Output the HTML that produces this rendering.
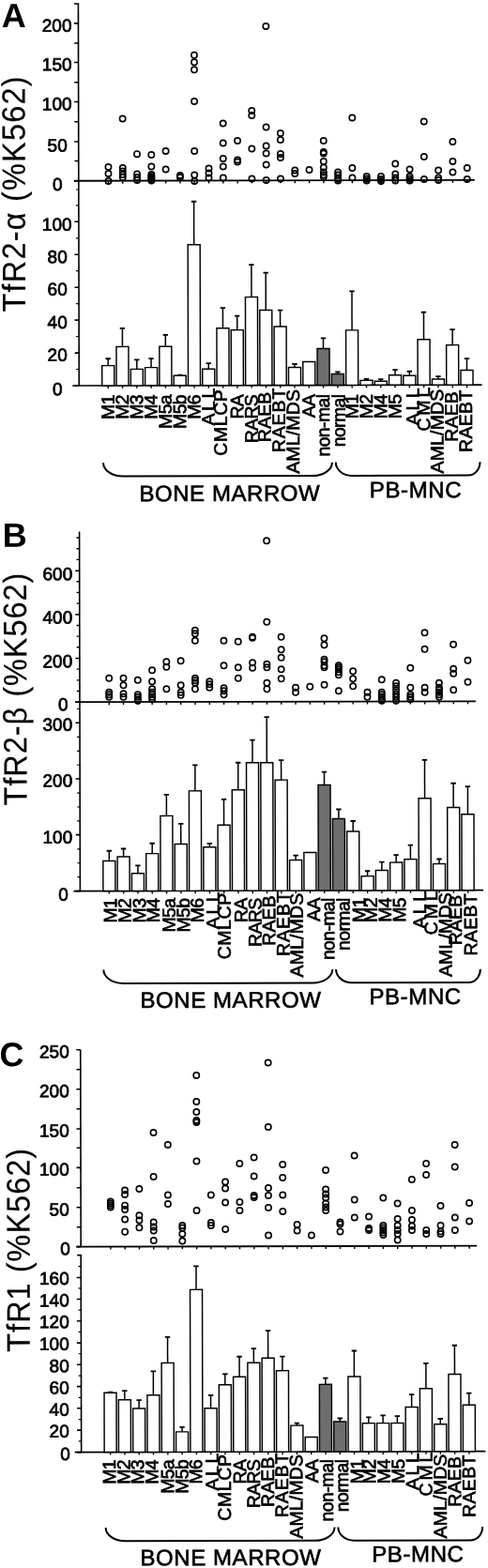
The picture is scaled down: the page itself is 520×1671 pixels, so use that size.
<!DOCTYPE html>
<html><head><meta charset="utf-8"><title>Figure</title>
<style>
html,body{margin:0;padding:0;background:#fff;}
svg{display:block;font-family:"Liberation Sans",sans-serif;fill:#000;}
</style></head><body>
<svg width="520" height="1671" viewBox="0 0 520 1671">
<rect x="0" y="0" width="520" height="1671" fill="#fff"/>
<g transform="rotate(-0.121 83.8 192.75)">
<!-- panel A -->
<line x1="83.80" y1="4.00" x2="83.80" y2="411.00" stroke="#000" stroke-width="1.6"/>
<line x1="79.30" y1="4.00" x2="84.60" y2="4.00" stroke="#000" stroke-width="1.6"/>
<line x1="78.80" y1="192.75" x2="505.80" y2="192.75" stroke="#000" stroke-width="1.8"/>
<line x1="76.80" y1="411.00" x2="513.10" y2="411.00" stroke="#000" stroke-width="1.7"/>
<line x1="79.30" y1="24.90" x2="83.80" y2="24.90" stroke="#000" stroke-width="1.6"/>
<text x="76.85" y="33.60" font-size="19" text-anchor="end" font-weight="normal" stroke="#000" stroke-width="0.75">200</text>
<line x1="79.30" y1="66.50" x2="83.80" y2="66.50" stroke="#000" stroke-width="1.6"/>
<text x="76.77" y="75.20" font-size="19" text-anchor="end" font-weight="normal" stroke="#000" stroke-width="0.75">150</text>
<line x1="79.30" y1="108.50" x2="83.80" y2="108.50" stroke="#000" stroke-width="1.6"/>
<text x="76.68" y="117.30" font-size="19" text-anchor="end" font-weight="normal" stroke="#000" stroke-width="0.75">100</text>
<line x1="79.30" y1="151.00" x2="83.80" y2="151.00" stroke="#000" stroke-width="1.6"/>
<text x="71.79" y="161.50" font-size="19" text-anchor="end" font-weight="normal" stroke="#000" stroke-width="0.75">50</text>
<line x1="79.30" y1="192.75" x2="83.80" y2="192.75" stroke="#000" stroke-width="1.6"/>
<text x="66.50" y="202.95" font-size="19" text-anchor="end" font-weight="normal" stroke="#000" stroke-width="0.75">0</text>
<line x1="79.30" y1="236.30" x2="83.80" y2="236.30" stroke="#000" stroke-width="1.6"/>
<text x="76.41" y="245.60" font-size="19" text-anchor="end" font-weight="normal" stroke="#000" stroke-width="0.75">100</text>
<line x1="79.30" y1="271.20" x2="83.80" y2="271.20" stroke="#000" stroke-width="1.6"/>
<text x="71.53" y="280.30" font-size="19" text-anchor="end" font-weight="normal" stroke="#000" stroke-width="0.75">80</text>
<line x1="79.30" y1="306.20" x2="83.80" y2="306.20" stroke="#000" stroke-width="1.6"/>
<text x="71.46" y="314.70" font-size="19" text-anchor="end" font-weight="normal" stroke="#000" stroke-width="0.75">60</text>
<line x1="79.30" y1="341.10" x2="83.80" y2="341.10" stroke="#000" stroke-width="1.6"/>
<text x="71.39" y="350.00" font-size="19" text-anchor="end" font-weight="normal" stroke="#000" stroke-width="0.75">40</text>
<line x1="79.30" y1="376.10" x2="83.80" y2="376.10" stroke="#000" stroke-width="1.6"/>
<text x="71.31" y="384.80" font-size="19" text-anchor="end" font-weight="normal" stroke="#000" stroke-width="0.75">20</text>
<line x1="79.30" y1="411.00" x2="83.80" y2="411.00" stroke="#000" stroke-width="1.6"/>
<text x="66.04" y="421.10" font-size="19" text-anchor="end" font-weight="normal" stroke="#000" stroke-width="0.75">0</text>
<line x1="79.50" y1="46.00" x2="83.80" y2="46.00" stroke="#000" stroke-width="1.4"/>
<line x1="79.50" y1="87.80" x2="83.80" y2="87.80" stroke="#000" stroke-width="1.4"/>
<line x1="79.50" y1="129.70" x2="83.80" y2="129.70" stroke="#000" stroke-width="1.4"/>
<line x1="79.50" y1="171.50" x2="83.80" y2="171.50" stroke="#000" stroke-width="1.4"/>
<line x1="80.80" y1="218.80" x2="83.80" y2="218.80" stroke="#000" stroke-width="1.2"/>
<line x1="80.80" y1="253.80" x2="83.80" y2="253.80" stroke="#000" stroke-width="1.2"/>
<line x1="80.80" y1="288.70" x2="83.80" y2="288.70" stroke="#000" stroke-width="1.2"/>
<line x1="80.80" y1="323.60" x2="83.80" y2="323.60" stroke="#000" stroke-width="1.2"/>
<line x1="80.80" y1="358.60" x2="83.80" y2="358.60" stroke="#000" stroke-width="1.2"/>
<line x1="80.80" y1="393.50" x2="83.80" y2="393.50" stroke="#000" stroke-width="1.2"/>
<line x1="80.80" y1="202.00" x2="83.80" y2="202.00" stroke="#000" stroke-width="1.2"/>
<line x1="115.50" y1="192.75" x2="115.50" y2="195.75" stroke="#000" stroke-width="1.4"/>
<line x1="114.80" y1="411.00" x2="114.80" y2="414.00" stroke="#000" stroke-width="1.4"/>
<line x1="130.79" y1="192.75" x2="130.79" y2="195.75" stroke="#000" stroke-width="1.4"/>
<line x1="130.09" y1="411.00" x2="130.09" y2="414.00" stroke="#000" stroke-width="1.4"/>
<line x1="146.08" y1="192.75" x2="146.08" y2="195.75" stroke="#000" stroke-width="1.4"/>
<line x1="145.38" y1="411.00" x2="145.38" y2="414.00" stroke="#000" stroke-width="1.4"/>
<line x1="161.37" y1="192.75" x2="161.37" y2="195.75" stroke="#000" stroke-width="1.4"/>
<line x1="160.67" y1="411.00" x2="160.67" y2="414.00" stroke="#000" stroke-width="1.4"/>
<line x1="176.66" y1="192.75" x2="176.66" y2="195.75" stroke="#000" stroke-width="1.4"/>
<line x1="175.96" y1="411.00" x2="175.96" y2="414.00" stroke="#000" stroke-width="1.4"/>
<line x1="191.95" y1="192.75" x2="191.95" y2="195.75" stroke="#000" stroke-width="1.4"/>
<line x1="191.25" y1="411.00" x2="191.25" y2="414.00" stroke="#000" stroke-width="1.4"/>
<line x1="207.24" y1="192.75" x2="207.24" y2="195.75" stroke="#000" stroke-width="1.4"/>
<line x1="206.54" y1="411.00" x2="206.54" y2="414.00" stroke="#000" stroke-width="1.4"/>
<line x1="222.53" y1="192.75" x2="222.53" y2="195.75" stroke="#000" stroke-width="1.4"/>
<line x1="221.83" y1="411.00" x2="221.83" y2="414.00" stroke="#000" stroke-width="1.4"/>
<line x1="237.82" y1="192.75" x2="237.82" y2="195.75" stroke="#000" stroke-width="1.4"/>
<line x1="237.12" y1="411.00" x2="237.12" y2="414.00" stroke="#000" stroke-width="1.4"/>
<line x1="253.11" y1="192.75" x2="253.11" y2="195.75" stroke="#000" stroke-width="1.4"/>
<line x1="252.41" y1="411.00" x2="252.41" y2="414.00" stroke="#000" stroke-width="1.4"/>
<line x1="268.40" y1="192.75" x2="268.40" y2="195.75" stroke="#000" stroke-width="1.4"/>
<line x1="267.70" y1="411.00" x2="267.70" y2="414.00" stroke="#000" stroke-width="1.4"/>
<line x1="283.69" y1="192.75" x2="283.69" y2="195.75" stroke="#000" stroke-width="1.4"/>
<line x1="282.99" y1="411.00" x2="282.99" y2="414.00" stroke="#000" stroke-width="1.4"/>
<line x1="298.98" y1="192.75" x2="298.98" y2="195.75" stroke="#000" stroke-width="1.4"/>
<line x1="298.28" y1="411.00" x2="298.28" y2="414.00" stroke="#000" stroke-width="1.4"/>
<line x1="314.27" y1="192.75" x2="314.27" y2="195.75" stroke="#000" stroke-width="1.4"/>
<line x1="313.57" y1="411.00" x2="313.57" y2="414.00" stroke="#000" stroke-width="1.4"/>
<line x1="329.56" y1="192.75" x2="329.56" y2="195.75" stroke="#000" stroke-width="1.4"/>
<line x1="328.86" y1="411.00" x2="328.86" y2="414.00" stroke="#000" stroke-width="1.4"/>
<line x1="344.85" y1="192.75" x2="344.85" y2="195.75" stroke="#000" stroke-width="1.4"/>
<line x1="344.15" y1="411.00" x2="344.15" y2="414.00" stroke="#000" stroke-width="1.4"/>
<line x1="360.14" y1="192.75" x2="360.14" y2="195.75" stroke="#000" stroke-width="1.4"/>
<line x1="359.44" y1="411.00" x2="359.44" y2="414.00" stroke="#000" stroke-width="1.4"/>
<line x1="375.43" y1="192.75" x2="375.43" y2="195.75" stroke="#000" stroke-width="1.4"/>
<line x1="374.73" y1="411.00" x2="374.73" y2="414.00" stroke="#000" stroke-width="1.4"/>
<line x1="390.72" y1="192.75" x2="390.72" y2="195.75" stroke="#000" stroke-width="1.4"/>
<line x1="390.02" y1="411.00" x2="390.02" y2="414.00" stroke="#000" stroke-width="1.4"/>
<line x1="406.01" y1="192.75" x2="406.01" y2="195.75" stroke="#000" stroke-width="1.4"/>
<line x1="405.31" y1="411.00" x2="405.31" y2="414.00" stroke="#000" stroke-width="1.4"/>
<line x1="421.30" y1="192.75" x2="421.30" y2="195.75" stroke="#000" stroke-width="1.4"/>
<line x1="420.60" y1="411.00" x2="420.60" y2="414.00" stroke="#000" stroke-width="1.4"/>
<line x1="436.59" y1="192.75" x2="436.59" y2="195.75" stroke="#000" stroke-width="1.4"/>
<line x1="435.89" y1="411.00" x2="435.89" y2="414.00" stroke="#000" stroke-width="1.4"/>
<line x1="451.88" y1="192.75" x2="451.88" y2="195.75" stroke="#000" stroke-width="1.4"/>
<line x1="451.18" y1="411.00" x2="451.18" y2="414.00" stroke="#000" stroke-width="1.4"/>
<line x1="467.17" y1="192.75" x2="467.17" y2="195.75" stroke="#000" stroke-width="1.4"/>
<line x1="466.47" y1="411.00" x2="466.47" y2="414.00" stroke="#000" stroke-width="1.4"/>
<line x1="482.46" y1="192.75" x2="482.46" y2="195.75" stroke="#000" stroke-width="1.4"/>
<line x1="481.76" y1="411.00" x2="481.76" y2="414.00" stroke="#000" stroke-width="1.4"/>
<line x1="497.75" y1="192.75" x2="497.75" y2="195.75" stroke="#000" stroke-width="1.4"/>
<line x1="497.05" y1="411.00" x2="497.05" y2="414.00" stroke="#000" stroke-width="1.4"/>
<line x1="114.80" y1="382.30" x2="114.80" y2="389.70" stroke="#000" stroke-width="1.5"/>
<line x1="112.10" y1="382.30" x2="117.50" y2="382.30" stroke="#000" stroke-width="1.8"/>
<rect x="108.30" y="389.70" width="13.0" height="21.30" fill="#fff" stroke="#000" stroke-width="1.45"/>
<line x1="130.09" y1="350.00" x2="130.09" y2="369.50" stroke="#000" stroke-width="1.5"/>
<line x1="127.39" y1="350.00" x2="132.79" y2="350.00" stroke="#000" stroke-width="1.8"/>
<rect x="123.59" y="369.50" width="13.0" height="41.50" fill="#fff" stroke="#000" stroke-width="1.45"/>
<line x1="145.38" y1="383.50" x2="145.38" y2="393.50" stroke="#000" stroke-width="1.5"/>
<line x1="142.68" y1="383.50" x2="148.08" y2="383.50" stroke="#000" stroke-width="1.8"/>
<rect x="138.88" y="393.50" width="13.0" height="17.50" fill="#fff" stroke="#000" stroke-width="1.45"/>
<line x1="160.67" y1="382.30" x2="160.67" y2="391.80" stroke="#000" stroke-width="1.5"/>
<line x1="157.97" y1="382.30" x2="163.37" y2="382.30" stroke="#000" stroke-width="1.8"/>
<rect x="154.17" y="391.80" width="13.0" height="19.20" fill="#fff" stroke="#000" stroke-width="1.45"/>
<line x1="175.96" y1="357.00" x2="175.96" y2="369.50" stroke="#000" stroke-width="1.5"/>
<line x1="173.26" y1="357.00" x2="178.66" y2="357.00" stroke="#000" stroke-width="1.8"/>
<rect x="169.46" y="369.50" width="13.0" height="41.50" fill="#fff" stroke="#000" stroke-width="1.45"/>
<line x1="191.25" y1="399.80" x2="191.25" y2="400.50" stroke="#000" stroke-width="1.5"/>
<line x1="188.55" y1="399.80" x2="193.95" y2="399.80" stroke="#000" stroke-width="1.8"/>
<rect x="184.75" y="400.50" width="13.0" height="10.50" fill="#fff" stroke="#000" stroke-width="1.45"/>
<line x1="206.54" y1="215.00" x2="206.54" y2="261.00" stroke="#000" stroke-width="1.5"/>
<line x1="203.84" y1="215.00" x2="209.24" y2="215.00" stroke="#000" stroke-width="1.8"/>
<rect x="200.04" y="261.00" width="13.0" height="150.00" fill="#fff" stroke="#000" stroke-width="1.45"/>
<line x1="221.83" y1="387.50" x2="221.83" y2="393.50" stroke="#000" stroke-width="1.5"/>
<line x1="219.13" y1="387.50" x2="224.53" y2="387.50" stroke="#000" stroke-width="1.8"/>
<rect x="215.33" y="393.50" width="13.0" height="17.50" fill="#fff" stroke="#000" stroke-width="1.45"/>
<line x1="237.12" y1="328.50" x2="237.12" y2="350.00" stroke="#000" stroke-width="1.5"/>
<line x1="234.42" y1="328.50" x2="239.82" y2="328.50" stroke="#000" stroke-width="1.8"/>
<rect x="230.62" y="350.00" width="13.0" height="61.00" fill="#fff" stroke="#000" stroke-width="1.45"/>
<line x1="252.41" y1="337.00" x2="252.41" y2="352.00" stroke="#000" stroke-width="1.5"/>
<line x1="249.71" y1="337.00" x2="255.11" y2="337.00" stroke="#000" stroke-width="1.8"/>
<rect x="245.91" y="352.00" width="13.0" height="59.00" fill="#fff" stroke="#000" stroke-width="1.45"/>
<line x1="267.70" y1="282.50" x2="267.70" y2="317.00" stroke="#000" stroke-width="1.5"/>
<line x1="265.00" y1="282.50" x2="270.40" y2="282.50" stroke="#000" stroke-width="1.8"/>
<rect x="261.20" y="317.00" width="13.0" height="94.00" fill="#fff" stroke="#000" stroke-width="1.45"/>
<line x1="282.99" y1="291.00" x2="282.99" y2="331.00" stroke="#000" stroke-width="1.5"/>
<line x1="280.29" y1="291.00" x2="285.69" y2="291.00" stroke="#000" stroke-width="1.8"/>
<rect x="276.49" y="331.00" width="13.0" height="80.00" fill="#fff" stroke="#000" stroke-width="1.45"/>
<line x1="298.28" y1="331.00" x2="298.28" y2="348.50" stroke="#000" stroke-width="1.5"/>
<line x1="295.58" y1="331.00" x2="300.98" y2="331.00" stroke="#000" stroke-width="1.8"/>
<rect x="291.78" y="348.50" width="13.0" height="62.50" fill="#fff" stroke="#000" stroke-width="1.45"/>
<line x1="313.57" y1="388.50" x2="313.57" y2="392.00" stroke="#000" stroke-width="1.5"/>
<line x1="310.87" y1="388.50" x2="316.27" y2="388.50" stroke="#000" stroke-width="1.8"/>
<rect x="307.07" y="392.00" width="13.0" height="19.00" fill="#fff" stroke="#000" stroke-width="1.45"/>
<rect x="322.36" y="386.00" width="13.0" height="25.00" fill="#fff" stroke="#000" stroke-width="1.45"/>
<line x1="344.15" y1="361.00" x2="344.15" y2="372.00" stroke="#000" stroke-width="1.5"/>
<line x1="341.45" y1="361.00" x2="346.85" y2="361.00" stroke="#000" stroke-width="1.8"/>
<rect x="337.65" y="372.00" width="13.0" height="39.00" fill="#6e6e6e" stroke="#000" stroke-width="1.45"/>
<line x1="359.44" y1="397.00" x2="359.44" y2="399.00" stroke="#000" stroke-width="1.5"/>
<line x1="356.74" y1="397.00" x2="362.14" y2="397.00" stroke="#000" stroke-width="1.8"/>
<rect x="352.94" y="399.00" width="13.0" height="12.00" fill="#6e6e6e" stroke="#000" stroke-width="1.45"/>
<line x1="374.73" y1="311.00" x2="374.73" y2="352.50" stroke="#000" stroke-width="1.5"/>
<line x1="372.03" y1="311.00" x2="377.43" y2="311.00" stroke="#000" stroke-width="1.8"/>
<rect x="368.23" y="352.50" width="13.0" height="58.50" fill="#fff" stroke="#000" stroke-width="1.45"/>
<line x1="390.02" y1="404.50" x2="390.02" y2="406.00" stroke="#000" stroke-width="1.5"/>
<line x1="387.32" y1="404.50" x2="392.72" y2="404.50" stroke="#000" stroke-width="1.8"/>
<rect x="383.52" y="406.00" width="13.0" height="5.00" fill="#fff" stroke="#000" stroke-width="1.45"/>
<line x1="405.31" y1="404.80" x2="405.31" y2="407.00" stroke="#000" stroke-width="1.5"/>
<line x1="402.61" y1="404.80" x2="408.01" y2="404.80" stroke="#000" stroke-width="1.8"/>
<rect x="398.81" y="407.00" width="13.0" height="4.00" fill="#fff" stroke="#000" stroke-width="1.45"/>
<line x1="420.60" y1="394.80" x2="420.60" y2="400.50" stroke="#000" stroke-width="1.5"/>
<line x1="417.90" y1="394.80" x2="423.30" y2="394.80" stroke="#000" stroke-width="1.8"/>
<rect x="414.10" y="400.50" width="13.0" height="10.50" fill="#fff" stroke="#000" stroke-width="1.45"/>
<line x1="435.89" y1="396.50" x2="435.89" y2="401.00" stroke="#000" stroke-width="1.5"/>
<line x1="433.19" y1="396.50" x2="438.59" y2="396.50" stroke="#000" stroke-width="1.8"/>
<rect x="429.39" y="401.00" width="13.0" height="10.00" fill="#fff" stroke="#000" stroke-width="1.45"/>
<line x1="451.18" y1="333.50" x2="451.18" y2="362.50" stroke="#000" stroke-width="1.5"/>
<line x1="448.48" y1="333.50" x2="453.88" y2="333.50" stroke="#000" stroke-width="1.8"/>
<rect x="444.68" y="362.50" width="13.0" height="48.50" fill="#fff" stroke="#000" stroke-width="1.45"/>
<line x1="466.47" y1="402.00" x2="466.47" y2="404.80" stroke="#000" stroke-width="1.5"/>
<line x1="463.77" y1="402.00" x2="469.17" y2="402.00" stroke="#000" stroke-width="1.8"/>
<rect x="459.97" y="404.80" width="13.0" height="6.20" fill="#fff" stroke="#000" stroke-width="1.45"/>
<line x1="481.76" y1="352.00" x2="481.76" y2="368.50" stroke="#000" stroke-width="1.5"/>
<line x1="479.06" y1="352.00" x2="484.46" y2="352.00" stroke="#000" stroke-width="1.8"/>
<rect x="475.26" y="368.50" width="13.0" height="42.50" fill="#fff" stroke="#000" stroke-width="1.45"/>
<line x1="497.05" y1="383.00" x2="497.05" y2="395.30" stroke="#000" stroke-width="1.5"/>
<line x1="494.35" y1="383.00" x2="499.75" y2="383.00" stroke="#000" stroke-width="1.8"/>
<rect x="490.55" y="395.30" width="13.0" height="15.70" fill="#fff" stroke="#000" stroke-width="1.45"/>
<circle cx="115.50" cy="178.07" r="3.15" fill="none" stroke="#000" stroke-width="1.6"/>
<circle cx="115.50" cy="185.07" r="3.15" fill="none" stroke="#000" stroke-width="1.6"/>
<circle cx="115.50" cy="193.07" r="3.15" fill="none" stroke="#000" stroke-width="1.6"/>
<circle cx="130.79" cy="126.60" r="3.15" fill="none" stroke="#000" stroke-width="1.6"/>
<circle cx="130.79" cy="179.10" r="3.15" fill="none" stroke="#000" stroke-width="1.6"/>
<circle cx="130.79" cy="182.60" r="3.15" fill="none" stroke="#000" stroke-width="1.6"/>
<circle cx="130.79" cy="186.10" r="3.15" fill="none" stroke="#000" stroke-width="1.6"/>
<circle cx="130.79" cy="189.10" r="3.15" fill="none" stroke="#000" stroke-width="1.6"/>
<circle cx="146.08" cy="164.33" r="3.15" fill="none" stroke="#000" stroke-width="1.6"/>
<circle cx="146.08" cy="185.63" r="3.15" fill="none" stroke="#000" stroke-width="1.6"/>
<circle cx="146.08" cy="189.13" r="3.15" fill="none" stroke="#000" stroke-width="1.6"/>
<circle cx="146.08" cy="192.13" r="3.15" fill="none" stroke="#000" stroke-width="1.6"/>
<circle cx="161.37" cy="165.16" r="3.15" fill="none" stroke="#000" stroke-width="1.6"/>
<circle cx="161.37" cy="177.66" r="3.15" fill="none" stroke="#000" stroke-width="1.6"/>
<circle cx="161.37" cy="186.16" r="3.15" fill="none" stroke="#000" stroke-width="1.6"/>
<circle cx="161.37" cy="188.16" r="3.15" fill="none" stroke="#000" stroke-width="1.6"/>
<circle cx="161.37" cy="189.66" r="3.15" fill="none" stroke="#000" stroke-width="1.6"/>
<circle cx="161.37" cy="191.16" r="3.15" fill="none" stroke="#000" stroke-width="1.6"/>
<circle cx="161.37" cy="192.66" r="3.15" fill="none" stroke="#000" stroke-width="1.6"/>
<circle cx="176.66" cy="161.19" r="3.15" fill="none" stroke="#000" stroke-width="1.6"/>
<circle cx="176.66" cy="180.69" r="3.15" fill="none" stroke="#000" stroke-width="1.6"/>
<circle cx="191.95" cy="187.23" r="3.15" fill="none" stroke="#000" stroke-width="1.6"/>
<circle cx="191.95" cy="189.23" r="3.15" fill="none" stroke="#000" stroke-width="1.6"/>
<circle cx="207.24" cy="59.06" r="3.15" fill="none" stroke="#000" stroke-width="1.6"/>
<circle cx="207.24" cy="66.56" r="3.15" fill="none" stroke="#000" stroke-width="1.6"/>
<circle cx="207.24" cy="74.56" r="3.15" fill="none" stroke="#000" stroke-width="1.6"/>
<circle cx="207.24" cy="108.26" r="3.15" fill="none" stroke="#000" stroke-width="1.6"/>
<circle cx="207.24" cy="161.26" r="3.15" fill="none" stroke="#000" stroke-width="1.6"/>
<circle cx="207.24" cy="186.76" r="3.15" fill="none" stroke="#000" stroke-width="1.6"/>
<circle cx="207.24" cy="193.26" r="3.15" fill="none" stroke="#000" stroke-width="1.6"/>
<circle cx="222.53" cy="179.79" r="3.15" fill="none" stroke="#000" stroke-width="1.6"/>
<circle cx="222.53" cy="184.79" r="3.15" fill="none" stroke="#000" stroke-width="1.6"/>
<circle cx="222.53" cy="189.79" r="3.15" fill="none" stroke="#000" stroke-width="1.6"/>
<circle cx="237.82" cy="131.82" r="3.15" fill="none" stroke="#000" stroke-width="1.6"/>
<circle cx="237.82" cy="152.82" r="3.15" fill="none" stroke="#000" stroke-width="1.6"/>
<circle cx="237.82" cy="169.32" r="3.15" fill="none" stroke="#000" stroke-width="1.6"/>
<circle cx="237.82" cy="177.82" r="3.15" fill="none" stroke="#000" stroke-width="1.6"/>
<circle cx="237.82" cy="189.82" r="3.15" fill="none" stroke="#000" stroke-width="1.6"/>
<circle cx="253.11" cy="150.36" r="3.15" fill="none" stroke="#000" stroke-width="1.6"/>
<circle cx="253.11" cy="170.86" r="3.15" fill="none" stroke="#000" stroke-width="1.6"/>
<circle cx="253.11" cy="172.86" r="3.15" fill="none" stroke="#000" stroke-width="1.6"/>
<circle cx="268.40" cy="118.39" r="3.15" fill="none" stroke="#000" stroke-width="1.6"/>
<circle cx="268.40" cy="123.39" r="3.15" fill="none" stroke="#000" stroke-width="1.6"/>
<circle cx="268.40" cy="158.89" r="3.15" fill="none" stroke="#000" stroke-width="1.6"/>
<circle cx="268.40" cy="190.89" r="3.15" fill="none" stroke="#000" stroke-width="1.6"/>
<circle cx="283.69" cy="28.42" r="3.15" fill="none" stroke="#000" stroke-width="1.6"/>
<circle cx="283.69" cy="135.92" r="3.15" fill="none" stroke="#000" stroke-width="1.6"/>
<circle cx="283.69" cy="155.92" r="3.15" fill="none" stroke="#000" stroke-width="1.6"/>
<circle cx="283.69" cy="163.92" r="3.15" fill="none" stroke="#000" stroke-width="1.6"/>
<circle cx="283.69" cy="175.92" r="3.15" fill="none" stroke="#000" stroke-width="1.6"/>
<circle cx="283.69" cy="192.42" r="3.15" fill="none" stroke="#000" stroke-width="1.6"/>
<circle cx="298.98" cy="142.45" r="3.15" fill="none" stroke="#000" stroke-width="1.6"/>
<circle cx="298.98" cy="149.45" r="3.15" fill="none" stroke="#000" stroke-width="1.6"/>
<circle cx="298.98" cy="164.45" r="3.15" fill="none" stroke="#000" stroke-width="1.6"/>
<circle cx="298.98" cy="168.45" r="3.15" fill="none" stroke="#000" stroke-width="1.6"/>
<circle cx="298.98" cy="190.95" r="3.15" fill="none" stroke="#000" stroke-width="1.6"/>
<circle cx="314.27" cy="181.98" r="3.15" fill="none" stroke="#000" stroke-width="1.6"/>
<circle cx="314.27" cy="185.48" r="3.15" fill="none" stroke="#000" stroke-width="1.6"/>
<circle cx="329.56" cy="181.52" r="3.15" fill="none" stroke="#000" stroke-width="1.6"/>
<circle cx="344.85" cy="150.55" r="3.15" fill="none" stroke="#000" stroke-width="1.6"/>
<circle cx="344.85" cy="162.55" r="3.15" fill="none" stroke="#000" stroke-width="1.6"/>
<circle cx="344.85" cy="164.05" r="3.15" fill="none" stroke="#000" stroke-width="1.6"/>
<circle cx="344.85" cy="172.55" r="3.15" fill="none" stroke="#000" stroke-width="1.6"/>
<circle cx="344.85" cy="179.05" r="3.15" fill="none" stroke="#000" stroke-width="1.6"/>
<circle cx="344.85" cy="184.05" r="3.15" fill="none" stroke="#000" stroke-width="1.6"/>
<circle cx="344.85" cy="187.05" r="3.15" fill="none" stroke="#000" stroke-width="1.6"/>
<circle cx="344.85" cy="189.05" r="3.15" fill="none" stroke="#000" stroke-width="1.6"/>
<circle cx="360.14" cy="184.08" r="3.15" fill="none" stroke="#000" stroke-width="1.6"/>
<circle cx="360.14" cy="187.08" r="3.15" fill="none" stroke="#000" stroke-width="1.6"/>
<circle cx="360.14" cy="191.08" r="3.15" fill="none" stroke="#000" stroke-width="1.6"/>
<circle cx="360.14" cy="193.08" r="3.15" fill="none" stroke="#000" stroke-width="1.6"/>
<circle cx="375.43" cy="126.11" r="3.15" fill="none" stroke="#000" stroke-width="1.6"/>
<circle cx="375.43" cy="179.61" r="3.15" fill="none" stroke="#000" stroke-width="1.6"/>
<circle cx="375.43" cy="190.11" r="3.15" fill="none" stroke="#000" stroke-width="1.6"/>
<circle cx="390.72" cy="188.65" r="3.15" fill="none" stroke="#000" stroke-width="1.6"/>
<circle cx="390.72" cy="191.15" r="3.15" fill="none" stroke="#000" stroke-width="1.6"/>
<circle cx="390.72" cy="193.15" r="3.15" fill="none" stroke="#000" stroke-width="1.6"/>
<circle cx="406.01" cy="188.68" r="3.15" fill="none" stroke="#000" stroke-width="1.6"/>
<circle cx="406.01" cy="191.68" r="3.15" fill="none" stroke="#000" stroke-width="1.6"/>
<circle cx="406.01" cy="193.68" r="3.15" fill="none" stroke="#000" stroke-width="1.6"/>
<circle cx="421.30" cy="175.21" r="3.15" fill="none" stroke="#000" stroke-width="1.6"/>
<circle cx="421.30" cy="186.21" r="3.15" fill="none" stroke="#000" stroke-width="1.6"/>
<circle cx="421.30" cy="190.21" r="3.15" fill="none" stroke="#000" stroke-width="1.6"/>
<circle cx="421.30" cy="193.21" r="3.15" fill="none" stroke="#000" stroke-width="1.6"/>
<circle cx="436.59" cy="181.24" r="3.15" fill="none" stroke="#000" stroke-width="1.6"/>
<circle cx="436.59" cy="188.74" r="3.15" fill="none" stroke="#000" stroke-width="1.6"/>
<circle cx="436.59" cy="191.24" r="3.15" fill="none" stroke="#000" stroke-width="1.6"/>
<circle cx="436.59" cy="193.24" r="3.15" fill="none" stroke="#000" stroke-width="1.6"/>
<circle cx="451.88" cy="130.28" r="3.15" fill="none" stroke="#000" stroke-width="1.6"/>
<circle cx="451.88" cy="167.78" r="3.15" fill="none" stroke="#000" stroke-width="1.6"/>
<circle cx="451.88" cy="191.78" r="3.15" fill="none" stroke="#000" stroke-width="1.6"/>
<circle cx="467.17" cy="182.31" r="3.15" fill="none" stroke="#000" stroke-width="1.6"/>
<circle cx="467.17" cy="190.31" r="3.15" fill="none" stroke="#000" stroke-width="1.6"/>
<circle cx="467.17" cy="192.81" r="3.15" fill="none" stroke="#000" stroke-width="1.6"/>
<circle cx="482.46" cy="151.84" r="3.15" fill="none" stroke="#000" stroke-width="1.6"/>
<circle cx="482.46" cy="172.84" r="3.15" fill="none" stroke="#000" stroke-width="1.6"/>
<circle cx="482.46" cy="184.34" r="3.15" fill="none" stroke="#000" stroke-width="1.6"/>
<circle cx="497.75" cy="179.87" r="3.15" fill="none" stroke="#000" stroke-width="1.6"/>
<circle cx="497.75" cy="191.87" r="3.15" fill="none" stroke="#000" stroke-width="1.6"/>
<text x="121.20" y="421.20" font-size="19.4" text-anchor="end" font-weight="normal" transform="rotate(-90 121.20 421.20)" letter-spacing="-0.60" stroke="#000" stroke-width="0.7">M1</text>
<text x="136.49" y="421.20" font-size="19.4" text-anchor="end" font-weight="normal" transform="rotate(-90 136.49 421.20)" letter-spacing="-0.60" stroke="#000" stroke-width="0.7">M2</text>
<text x="151.78" y="421.20" font-size="19.4" text-anchor="end" font-weight="normal" transform="rotate(-90 151.78 421.20)" letter-spacing="-0.60" stroke="#000" stroke-width="0.7">M3</text>
<text x="167.07" y="421.20" font-size="19.4" text-anchor="end" font-weight="normal" transform="rotate(-90 167.07 421.20)" letter-spacing="-0.60" stroke="#000" stroke-width="0.7">M4</text>
<text x="182.36" y="421.20" font-size="19.4" text-anchor="end" font-weight="normal" transform="rotate(-90 182.36 421.20)" letter-spacing="-0.60" stroke="#000" stroke-width="0.7">M5a</text>
<text x="197.65" y="421.20" font-size="19.4" text-anchor="end" font-weight="normal" transform="rotate(-90 197.65 421.20)" letter-spacing="-0.60" stroke="#000" stroke-width="0.7">M5b</text>
<text x="212.94" y="421.20" font-size="19.4" text-anchor="end" font-weight="normal" transform="rotate(-90 212.94 421.20)" letter-spacing="-0.60" stroke="#000" stroke-width="0.7">M6</text>
<text x="228.23" y="411.45" font-size="19.4" text-anchor="end" font-weight="normal" transform="rotate(-90 228.23 411.45)" letter-spacing="2.65" stroke="#000" stroke-width="0.7">ALL</text>
<text x="241.22" y="414.95" font-size="19.4" text-anchor="end" font-weight="normal" transform="rotate(-90 241.22 414.95)" letter-spacing="0.65" stroke="#000" stroke-width="0.7">CMLCP</text>
<text x="258.81" y="421.20" font-size="19.4" text-anchor="end" font-weight="normal" transform="rotate(-90 258.81 421.20)" letter-spacing="-0.60" stroke="#000" stroke-width="0.7">RA</text>
<text x="274.10" y="421.20" font-size="19.4" text-anchor="end" font-weight="normal" transform="rotate(-90 274.10 421.20)" letter-spacing="-0.60" stroke="#000" stroke-width="0.7">RARS</text>
<text x="287.89" y="417.87" font-size="19.4" text-anchor="end" font-weight="normal" transform="rotate(-90 287.89 417.87)" letter-spacing="0.23" stroke="#000" stroke-width="0.7">RAEB</text>
<text x="303.18" y="413.08" font-size="19.4" text-anchor="end" font-weight="normal" transform="rotate(-90 303.18 413.08)" letter-spacing="1.02" stroke="#000" stroke-width="0.7">RAEBT</text>
<text x="318.47" y="415.37" font-size="19.4" text-anchor="end" font-weight="normal" transform="rotate(-90 318.47 415.37)" letter-spacing="0.23" stroke="#000" stroke-width="0.7">AML/MDS</text>
<text x="335.26" y="421.20" font-size="19.4" text-anchor="end" font-weight="normal" transform="rotate(-90 335.26 421.20)" letter-spacing="-0.60" stroke="#000" stroke-width="0.7">AA</text>
<text x="350.55" y="421.20" font-size="19.4" text-anchor="end" font-weight="normal" transform="rotate(-90 350.55 421.20)" letter-spacing="-0.60" stroke="#000" stroke-width="0.7">non-mal</text>
<text x="367.14" y="421.20" font-size="19.4" text-anchor="end" font-weight="normal" transform="rotate(-90 367.14 421.20)" letter-spacing="-0.60" stroke="#000" stroke-width="0.7">normal</text>
<text x="381.13" y="421.20" font-size="19.4" text-anchor="end" font-weight="normal" transform="rotate(-90 381.13 421.20)" letter-spacing="-0.60" stroke="#000" stroke-width="0.7">M1</text>
<text x="396.42" y="421.20" font-size="19.4" text-anchor="end" font-weight="normal" transform="rotate(-90 396.42 421.20)" letter-spacing="-0.60" stroke="#000" stroke-width="0.7">M2</text>
<text x="411.71" y="421.20" font-size="19.4" text-anchor="end" font-weight="normal" transform="rotate(-90 411.71 421.20)" letter-spacing="-0.60" stroke="#000" stroke-width="0.7">M4</text>
<text x="427.00" y="421.20" font-size="19.4" text-anchor="end" font-weight="normal" transform="rotate(-90 427.00 421.20)" letter-spacing="-0.60" stroke="#000" stroke-width="0.7">M5</text>
<text x="445.99" y="411.45" font-size="19.4" text-anchor="end" font-weight="normal" transform="rotate(-90 445.99 411.45)" letter-spacing="2.65" stroke="#000" stroke-width="0.7">ALL</text>
<text x="457.58" y="410.70" font-size="19.4" text-anchor="end" font-weight="normal" transform="rotate(-90 457.58 410.70)" letter-spacing="2.90" stroke="#000" stroke-width="0.7">CML</text>
<text x="471.87" y="415.37" font-size="19.4" text-anchor="end" font-weight="normal" transform="rotate(-90 471.87 415.37)" letter-spacing="0.23" stroke="#000" stroke-width="0.7">AML/MDS</text>
<text x="487.16" y="417.87" font-size="19.4" text-anchor="end" font-weight="normal" transform="rotate(-90 487.16 417.87)" letter-spacing="0.23" stroke="#000" stroke-width="0.7">RAEB</text>
<text x="502.45" y="416.20" font-size="19.4" text-anchor="end" font-weight="normal" transform="rotate(-90 502.45 416.20)" letter-spacing="0.40" stroke="#000" stroke-width="0.7">RAEBT</text>
<path d="M109.40 493.20 C109.40 501.15,118.80 507.60,130.40 507.60 L332.30 507.60 C343.90 507.60,353.30 501.15,353.30 493.20 M357.10 493.20 C357.10 501.10,364.71 507.50,374.10 507.50 L498.20 507.50 C505.21 507.50,510.90 501.10,510.90 493.20" fill="none" stroke="#000" stroke-width="2"/>
<text x="147.66" y="534.30" font-size="24" text-anchor="start" font-weight="normal" letter-spacing="0.57" stroke="#000" stroke-width="0.65">BONE MARROW</text>
<text x="393.16" y="531.00" font-size="24" text-anchor="start" font-weight="normal" letter-spacing="0.6" stroke="#000" stroke-width="0.65">PB-MNC</text>
<text x="2.05" y="28.83" font-size="36" text-anchor="start" font-weight="bold" stroke="#000" stroke-width="0">A</text>
<text transform="translate(26.67 206.28) rotate(-90) scale(1 1.07)" x="0" y="0" font-size="32.5" text-anchor="middle" stroke="#000" stroke-width="0.15" letter-spacing="1.2">TfR2-&#945; (%K562)</text>
<!-- panel B -->
<line x1="83.80" y1="566.50" x2="83.80" y2="949.60" stroke="#000" stroke-width="1.6"/>
<line x1="78.80" y1="748.20" x2="505.80" y2="748.20" stroke="#000" stroke-width="1.7"/>
<line x1="76.80" y1="949.60" x2="513.50" y2="949.60" stroke="#000" stroke-width="1.7"/>
<line x1="79.30" y1="608.20" x2="83.80" y2="608.20" stroke="#000" stroke-width="1.6"/>
<text x="76.32" y="618.20" font-size="19" text-anchor="end" font-weight="normal" stroke="#000" stroke-width="0.75">600</text>
<line x1="79.30" y1="654.90" x2="83.80" y2="654.90" stroke="#000" stroke-width="1.6"/>
<text x="76.22" y="664.50" font-size="19" text-anchor="end" font-weight="normal" stroke="#000" stroke-width="0.75">400</text>
<line x1="79.30" y1="701.50" x2="83.80" y2="701.50" stroke="#000" stroke-width="1.6"/>
<text x="76.13" y="711.30" font-size="19" text-anchor="end" font-weight="normal" stroke="#000" stroke-width="0.75">200</text>
<line x1="79.30" y1="748.20" x2="83.80" y2="748.20" stroke="#000" stroke-width="1.6"/>
<text x="71.33" y="757.10" font-size="19" text-anchor="end" font-weight="normal" stroke="#000" stroke-width="0.75">0</text>
<line x1="79.30" y1="770.20" x2="83.80" y2="770.20" stroke="#000" stroke-width="1.6"/>
<text x="75.98" y="778.70" font-size="19" text-anchor="end" font-weight="normal" stroke="#000" stroke-width="0.75">300</text>
<line x1="79.30" y1="830.00" x2="83.80" y2="830.00" stroke="#000" stroke-width="1.6"/>
<text x="75.86" y="838.50" font-size="19" text-anchor="end" font-weight="normal" stroke="#000" stroke-width="0.75">200</text>
<line x1="79.30" y1="889.60" x2="83.80" y2="889.60" stroke="#000" stroke-width="1.6"/>
<text x="75.73" y="898.70" font-size="19" text-anchor="end" font-weight="normal" stroke="#000" stroke-width="0.75">100</text>
<line x1="79.30" y1="949.60" x2="83.80" y2="949.60" stroke="#000" stroke-width="1.6"/>
<text x="71.10" y="959.70" font-size="19" text-anchor="end" font-weight="normal" stroke="#000" stroke-width="0.75">0</text>
<line x1="80.60" y1="736.52" x2="83.80" y2="736.52" stroke="#000" stroke-width="1.4"/>
<line x1="80.60" y1="724.84" x2="83.80" y2="724.84" stroke="#000" stroke-width="1.4"/>
<line x1="80.60" y1="713.16" x2="83.80" y2="713.16" stroke="#000" stroke-width="1.4"/>
<line x1="80.60" y1="689.80" x2="83.80" y2="689.80" stroke="#000" stroke-width="1.4"/>
<line x1="80.60" y1="678.12" x2="83.80" y2="678.12" stroke="#000" stroke-width="1.4"/>
<line x1="80.60" y1="666.44" x2="83.80" y2="666.44" stroke="#000" stroke-width="1.4"/>
<line x1="80.60" y1="643.08" x2="83.80" y2="643.08" stroke="#000" stroke-width="1.4"/>
<line x1="80.60" y1="631.40" x2="83.80" y2="631.40" stroke="#000" stroke-width="1.4"/>
<line x1="80.60" y1="619.72" x2="83.80" y2="619.72" stroke="#000" stroke-width="1.4"/>
<line x1="80.60" y1="596.36" x2="83.80" y2="596.36" stroke="#000" stroke-width="1.4"/>
<line x1="80.60" y1="584.68" x2="83.80" y2="584.68" stroke="#000" stroke-width="1.4"/>
<line x1="80.60" y1="573.00" x2="83.80" y2="573.00" stroke="#000" stroke-width="1.4"/>
<line x1="80.80" y1="934.67" x2="83.80" y2="934.67" stroke="#000" stroke-width="1.2"/>
<line x1="80.80" y1="919.74" x2="83.80" y2="919.74" stroke="#000" stroke-width="1.2"/>
<line x1="80.80" y1="904.81" x2="83.80" y2="904.81" stroke="#000" stroke-width="1.2"/>
<line x1="80.80" y1="874.95" x2="83.80" y2="874.95" stroke="#000" stroke-width="1.2"/>
<line x1="80.80" y1="860.02" x2="83.80" y2="860.02" stroke="#000" stroke-width="1.2"/>
<line x1="80.80" y1="845.09" x2="83.80" y2="845.09" stroke="#000" stroke-width="1.2"/>
<line x1="80.80" y1="815.23" x2="83.80" y2="815.23" stroke="#000" stroke-width="1.2"/>
<line x1="80.80" y1="800.30" x2="83.80" y2="800.30" stroke="#000" stroke-width="1.2"/>
<line x1="80.80" y1="785.37" x2="83.80" y2="785.37" stroke="#000" stroke-width="1.2"/>
<line x1="80.80" y1="755.51" x2="83.80" y2="755.51" stroke="#000" stroke-width="1.2"/>
<line x1="115.10" y1="748.20" x2="115.10" y2="751.20" stroke="#000" stroke-width="1.4"/>
<line x1="114.80" y1="949.60" x2="114.80" y2="952.60" stroke="#000" stroke-width="1.4"/>
<line x1="130.39" y1="748.20" x2="130.39" y2="751.20" stroke="#000" stroke-width="1.4"/>
<line x1="130.09" y1="949.60" x2="130.09" y2="952.60" stroke="#000" stroke-width="1.4"/>
<line x1="145.68" y1="748.20" x2="145.68" y2="751.20" stroke="#000" stroke-width="1.4"/>
<line x1="145.38" y1="949.60" x2="145.38" y2="952.60" stroke="#000" stroke-width="1.4"/>
<line x1="160.97" y1="748.20" x2="160.97" y2="751.20" stroke="#000" stroke-width="1.4"/>
<line x1="160.67" y1="949.60" x2="160.67" y2="952.60" stroke="#000" stroke-width="1.4"/>
<line x1="176.26" y1="748.20" x2="176.26" y2="751.20" stroke="#000" stroke-width="1.4"/>
<line x1="175.96" y1="949.60" x2="175.96" y2="952.60" stroke="#000" stroke-width="1.4"/>
<line x1="191.55" y1="748.20" x2="191.55" y2="751.20" stroke="#000" stroke-width="1.4"/>
<line x1="191.25" y1="949.60" x2="191.25" y2="952.60" stroke="#000" stroke-width="1.4"/>
<line x1="206.84" y1="748.20" x2="206.84" y2="751.20" stroke="#000" stroke-width="1.4"/>
<line x1="206.54" y1="949.60" x2="206.54" y2="952.60" stroke="#000" stroke-width="1.4"/>
<line x1="222.13" y1="748.20" x2="222.13" y2="751.20" stroke="#000" stroke-width="1.4"/>
<line x1="221.83" y1="949.60" x2="221.83" y2="952.60" stroke="#000" stroke-width="1.4"/>
<line x1="237.42" y1="748.20" x2="237.42" y2="751.20" stroke="#000" stroke-width="1.4"/>
<line x1="237.12" y1="949.60" x2="237.12" y2="952.60" stroke="#000" stroke-width="1.4"/>
<line x1="252.71" y1="748.20" x2="252.71" y2="751.20" stroke="#000" stroke-width="1.4"/>
<line x1="252.41" y1="949.60" x2="252.41" y2="952.60" stroke="#000" stroke-width="1.4"/>
<line x1="268.00" y1="748.20" x2="268.00" y2="751.20" stroke="#000" stroke-width="1.4"/>
<line x1="267.70" y1="949.60" x2="267.70" y2="952.60" stroke="#000" stroke-width="1.4"/>
<line x1="283.29" y1="748.20" x2="283.29" y2="751.20" stroke="#000" stroke-width="1.4"/>
<line x1="282.99" y1="949.60" x2="282.99" y2="952.60" stroke="#000" stroke-width="1.4"/>
<line x1="298.58" y1="748.20" x2="298.58" y2="751.20" stroke="#000" stroke-width="1.4"/>
<line x1="298.28" y1="949.60" x2="298.28" y2="952.60" stroke="#000" stroke-width="1.4"/>
<line x1="313.87" y1="748.20" x2="313.87" y2="751.20" stroke="#000" stroke-width="1.4"/>
<line x1="313.57" y1="949.60" x2="313.57" y2="952.60" stroke="#000" stroke-width="1.4"/>
<line x1="329.16" y1="748.20" x2="329.16" y2="751.20" stroke="#000" stroke-width="1.4"/>
<line x1="328.86" y1="949.60" x2="328.86" y2="952.60" stroke="#000" stroke-width="1.4"/>
<line x1="344.45" y1="748.20" x2="344.45" y2="751.20" stroke="#000" stroke-width="1.4"/>
<line x1="344.15" y1="949.60" x2="344.15" y2="952.60" stroke="#000" stroke-width="1.4"/>
<line x1="359.74" y1="748.20" x2="359.74" y2="751.20" stroke="#000" stroke-width="1.4"/>
<line x1="359.44" y1="949.60" x2="359.44" y2="952.60" stroke="#000" stroke-width="1.4"/>
<line x1="375.03" y1="748.20" x2="375.03" y2="751.20" stroke="#000" stroke-width="1.4"/>
<line x1="374.73" y1="949.60" x2="374.73" y2="952.60" stroke="#000" stroke-width="1.4"/>
<line x1="390.32" y1="748.20" x2="390.32" y2="751.20" stroke="#000" stroke-width="1.4"/>
<line x1="390.02" y1="949.60" x2="390.02" y2="952.60" stroke="#000" stroke-width="1.4"/>
<line x1="405.61" y1="748.20" x2="405.61" y2="751.20" stroke="#000" stroke-width="1.4"/>
<line x1="405.31" y1="949.60" x2="405.31" y2="952.60" stroke="#000" stroke-width="1.4"/>
<line x1="420.90" y1="748.20" x2="420.90" y2="751.20" stroke="#000" stroke-width="1.4"/>
<line x1="420.60" y1="949.60" x2="420.60" y2="952.60" stroke="#000" stroke-width="1.4"/>
<line x1="436.19" y1="748.20" x2="436.19" y2="751.20" stroke="#000" stroke-width="1.4"/>
<line x1="435.89" y1="949.60" x2="435.89" y2="952.60" stroke="#000" stroke-width="1.4"/>
<line x1="451.48" y1="748.20" x2="451.48" y2="751.20" stroke="#000" stroke-width="1.4"/>
<line x1="451.18" y1="949.60" x2="451.18" y2="952.60" stroke="#000" stroke-width="1.4"/>
<line x1="466.77" y1="748.20" x2="466.77" y2="751.20" stroke="#000" stroke-width="1.4"/>
<line x1="466.47" y1="949.60" x2="466.47" y2="952.60" stroke="#000" stroke-width="1.4"/>
<line x1="482.06" y1="748.20" x2="482.06" y2="751.20" stroke="#000" stroke-width="1.4"/>
<line x1="481.76" y1="949.60" x2="481.76" y2="952.60" stroke="#000" stroke-width="1.4"/>
<line x1="497.35" y1="748.20" x2="497.35" y2="751.20" stroke="#000" stroke-width="1.4"/>
<line x1="497.05" y1="949.60" x2="497.05" y2="952.60" stroke="#000" stroke-width="1.4"/>
<line x1="114.80" y1="906.80" x2="114.80" y2="917.60" stroke="#000" stroke-width="1.5"/>
<line x1="112.10" y1="906.80" x2="117.50" y2="906.80" stroke="#000" stroke-width="1.8"/>
<rect x="108.30" y="917.60" width="13.0" height="32.00" fill="#fff" stroke="#000" stroke-width="1.45"/>
<line x1="130.09" y1="904.60" x2="130.09" y2="913.10" stroke="#000" stroke-width="1.5"/>
<line x1="127.39" y1="904.60" x2="132.79" y2="904.60" stroke="#000" stroke-width="1.8"/>
<rect x="123.59" y="913.10" width="13.0" height="36.50" fill="#fff" stroke="#000" stroke-width="1.45"/>
<line x1="145.38" y1="922.60" x2="145.38" y2="930.90" stroke="#000" stroke-width="1.5"/>
<line x1="142.68" y1="922.60" x2="148.08" y2="922.60" stroke="#000" stroke-width="1.8"/>
<rect x="138.88" y="930.90" width="13.0" height="18.70" fill="#fff" stroke="#000" stroke-width="1.45"/>
<line x1="160.67" y1="898.90" x2="160.67" y2="909.80" stroke="#000" stroke-width="1.5"/>
<line x1="157.97" y1="898.90" x2="163.37" y2="898.90" stroke="#000" stroke-width="1.8"/>
<rect x="154.17" y="909.80" width="13.0" height="39.80" fill="#fff" stroke="#000" stroke-width="1.45"/>
<line x1="175.96" y1="847.10" x2="175.96" y2="869.60" stroke="#000" stroke-width="1.5"/>
<line x1="173.26" y1="847.10" x2="178.66" y2="847.10" stroke="#000" stroke-width="1.8"/>
<rect x="169.46" y="869.60" width="13.0" height="80.00" fill="#fff" stroke="#000" stroke-width="1.45"/>
<line x1="191.25" y1="878.10" x2="191.25" y2="899.80" stroke="#000" stroke-width="1.5"/>
<line x1="188.55" y1="878.10" x2="193.95" y2="878.10" stroke="#000" stroke-width="1.8"/>
<rect x="184.75" y="899.80" width="13.0" height="49.80" fill="#fff" stroke="#000" stroke-width="1.45"/>
<line x1="206.54" y1="815.60" x2="206.54" y2="843.10" stroke="#000" stroke-width="1.5"/>
<line x1="203.84" y1="815.60" x2="209.24" y2="815.60" stroke="#000" stroke-width="1.8"/>
<rect x="200.04" y="843.10" width="13.0" height="106.50" fill="#fff" stroke="#000" stroke-width="1.45"/>
<line x1="221.83" y1="899.10" x2="221.83" y2="903.10" stroke="#000" stroke-width="1.5"/>
<line x1="219.13" y1="899.10" x2="224.53" y2="899.10" stroke="#000" stroke-width="1.8"/>
<rect x="215.33" y="903.10" width="13.0" height="46.50" fill="#fff" stroke="#000" stroke-width="1.45"/>
<line x1="237.12" y1="852.10" x2="237.12" y2="879.60" stroke="#000" stroke-width="1.5"/>
<line x1="234.42" y1="852.10" x2="239.82" y2="852.10" stroke="#000" stroke-width="1.8"/>
<rect x="230.62" y="879.60" width="13.0" height="70.00" fill="#fff" stroke="#000" stroke-width="1.45"/>
<line x1="252.41" y1="813.10" x2="252.41" y2="842.10" stroke="#000" stroke-width="1.5"/>
<line x1="249.71" y1="813.10" x2="255.11" y2="813.10" stroke="#000" stroke-width="1.8"/>
<rect x="245.91" y="842.10" width="13.0" height="107.50" fill="#fff" stroke="#000" stroke-width="1.45"/>
<line x1="267.70" y1="789.10" x2="267.70" y2="813.10" stroke="#000" stroke-width="1.5"/>
<line x1="265.00" y1="789.10" x2="270.40" y2="789.10" stroke="#000" stroke-width="1.8"/>
<rect x="261.20" y="813.10" width="13.0" height="136.50" fill="#fff" stroke="#000" stroke-width="1.45"/>
<line x1="282.99" y1="764.60" x2="282.99" y2="813.10" stroke="#000" stroke-width="1.5"/>
<line x1="280.29" y1="764.60" x2="285.69" y2="764.60" stroke="#000" stroke-width="1.8"/>
<rect x="276.49" y="813.10" width="13.0" height="136.50" fill="#fff" stroke="#000" stroke-width="1.45"/>
<line x1="298.28" y1="810.60" x2="298.28" y2="831.60" stroke="#000" stroke-width="1.5"/>
<line x1="295.58" y1="810.60" x2="300.98" y2="810.60" stroke="#000" stroke-width="1.8"/>
<rect x="291.78" y="831.60" width="13.0" height="118.00" fill="#fff" stroke="#000" stroke-width="1.45"/>
<line x1="313.57" y1="912.10" x2="313.57" y2="917.10" stroke="#000" stroke-width="1.5"/>
<line x1="310.87" y1="912.10" x2="316.27" y2="912.10" stroke="#000" stroke-width="1.8"/>
<rect x="307.07" y="917.10" width="13.0" height="32.50" fill="#fff" stroke="#000" stroke-width="1.45"/>
<rect x="322.36" y="909.10" width="13.0" height="40.50" fill="#fff" stroke="#000" stroke-width="1.45"/>
<line x1="344.15" y1="823.10" x2="344.15" y2="837.10" stroke="#000" stroke-width="1.5"/>
<line x1="341.45" y1="823.10" x2="346.85" y2="823.10" stroke="#000" stroke-width="1.8"/>
<rect x="337.65" y="837.10" width="13.0" height="112.50" fill="#6e6e6e" stroke="#000" stroke-width="1.45"/>
<line x1="359.44" y1="863.10" x2="359.44" y2="873.10" stroke="#000" stroke-width="1.5"/>
<line x1="356.74" y1="863.10" x2="362.14" y2="863.10" stroke="#000" stroke-width="1.8"/>
<rect x="352.94" y="873.10" width="13.0" height="76.50" fill="#6e6e6e" stroke="#000" stroke-width="1.45"/>
<line x1="374.73" y1="875.60" x2="374.73" y2="886.60" stroke="#000" stroke-width="1.5"/>
<line x1="372.03" y1="875.60" x2="377.43" y2="875.60" stroke="#000" stroke-width="1.8"/>
<rect x="368.23" y="886.60" width="13.0" height="63.00" fill="#fff" stroke="#000" stroke-width="1.45"/>
<line x1="390.02" y1="928.90" x2="390.02" y2="934.30" stroke="#000" stroke-width="1.5"/>
<line x1="387.32" y1="928.90" x2="392.72" y2="928.90" stroke="#000" stroke-width="1.8"/>
<rect x="383.52" y="934.30" width="13.0" height="15.30" fill="#fff" stroke="#000" stroke-width="1.45"/>
<line x1="405.31" y1="919.30" x2="405.31" y2="928.10" stroke="#000" stroke-width="1.5"/>
<line x1="402.61" y1="919.30" x2="408.01" y2="919.30" stroke="#000" stroke-width="1.8"/>
<rect x="398.81" y="928.10" width="13.0" height="21.50" fill="#fff" stroke="#000" stroke-width="1.45"/>
<line x1="420.60" y1="911.90" x2="420.60" y2="919.80" stroke="#000" stroke-width="1.5"/>
<line x1="417.90" y1="911.90" x2="423.30" y2="911.90" stroke="#000" stroke-width="1.8"/>
<rect x="414.10" y="919.80" width="13.0" height="29.80" fill="#fff" stroke="#000" stroke-width="1.45"/>
<line x1="435.89" y1="901.40" x2="435.89" y2="916.40" stroke="#000" stroke-width="1.5"/>
<line x1="433.19" y1="901.40" x2="438.59" y2="901.40" stroke="#000" stroke-width="1.8"/>
<rect x="429.39" y="916.40" width="13.0" height="33.20" fill="#fff" stroke="#000" stroke-width="1.45"/>
<line x1="451.18" y1="810.60" x2="451.18" y2="851.60" stroke="#000" stroke-width="1.5"/>
<line x1="448.48" y1="810.60" x2="453.88" y2="810.60" stroke="#000" stroke-width="1.8"/>
<rect x="444.68" y="851.60" width="13.0" height="98.00" fill="#fff" stroke="#000" stroke-width="1.45"/>
<line x1="466.47" y1="916.30" x2="466.47" y2="921.40" stroke="#000" stroke-width="1.5"/>
<line x1="463.77" y1="916.30" x2="469.17" y2="916.30" stroke="#000" stroke-width="1.8"/>
<rect x="459.97" y="921.40" width="13.0" height="28.20" fill="#fff" stroke="#000" stroke-width="1.45"/>
<line x1="481.76" y1="835.60" x2="481.76" y2="861.40" stroke="#000" stroke-width="1.5"/>
<line x1="479.06" y1="835.60" x2="484.46" y2="835.60" stroke="#000" stroke-width="1.8"/>
<rect x="475.26" y="861.40" width="13.0" height="88.20" fill="#fff" stroke="#000" stroke-width="1.45"/>
<line x1="497.05" y1="839.10" x2="497.05" y2="868.60" stroke="#000" stroke-width="1.5"/>
<line x1="494.35" y1="839.10" x2="499.75" y2="839.10" stroke="#000" stroke-width="1.8"/>
<rect x="490.55" y="868.60" width="13.0" height="81.00" fill="#fff" stroke="#000" stroke-width="1.45"/>
<circle cx="115.10" cy="722.87" r="3.15" fill="none" stroke="#000" stroke-width="1.6"/>
<circle cx="115.10" cy="737.87" r="3.15" fill="none" stroke="#000" stroke-width="1.6"/>
<circle cx="115.10" cy="740.37" r="3.15" fill="none" stroke="#000" stroke-width="1.6"/>
<circle cx="115.10" cy="742.87" r="3.15" fill="none" stroke="#000" stroke-width="1.6"/>
<circle cx="130.39" cy="722.90" r="3.15" fill="none" stroke="#000" stroke-width="1.6"/>
<circle cx="130.39" cy="730.40" r="3.15" fill="none" stroke="#000" stroke-width="1.6"/>
<circle cx="130.39" cy="739.40" r="3.15" fill="none" stroke="#000" stroke-width="1.6"/>
<circle cx="130.39" cy="742.90" r="3.15" fill="none" stroke="#000" stroke-width="1.6"/>
<circle cx="145.68" cy="724.93" r="3.15" fill="none" stroke="#000" stroke-width="1.6"/>
<circle cx="145.68" cy="740.43" r="3.15" fill="none" stroke="#000" stroke-width="1.6"/>
<circle cx="145.68" cy="742.93" r="3.15" fill="none" stroke="#000" stroke-width="1.6"/>
<circle cx="145.68" cy="745.43" r="3.15" fill="none" stroke="#000" stroke-width="1.6"/>
<circle cx="145.68" cy="746.93" r="3.15" fill="none" stroke="#000" stroke-width="1.6"/>
<circle cx="160.97" cy="714.46" r="3.15" fill="none" stroke="#000" stroke-width="1.6"/>
<circle cx="160.97" cy="726.46" r="3.15" fill="none" stroke="#000" stroke-width="1.6"/>
<circle cx="160.97" cy="734.46" r="3.15" fill="none" stroke="#000" stroke-width="1.6"/>
<circle cx="160.97" cy="737.96" r="3.15" fill="none" stroke="#000" stroke-width="1.6"/>
<circle cx="160.97" cy="740.46" r="3.15" fill="none" stroke="#000" stroke-width="1.6"/>
<circle cx="160.97" cy="742.96" r="3.15" fill="none" stroke="#000" stroke-width="1.6"/>
<circle cx="160.97" cy="745.46" r="3.15" fill="none" stroke="#000" stroke-width="1.6"/>
<circle cx="176.26" cy="705.49" r="3.15" fill="none" stroke="#000" stroke-width="1.6"/>
<circle cx="176.26" cy="710.99" r="3.15" fill="none" stroke="#000" stroke-width="1.6"/>
<circle cx="176.26" cy="734.49" r="3.15" fill="none" stroke="#000" stroke-width="1.6"/>
<circle cx="191.55" cy="704.53" r="3.15" fill="none" stroke="#000" stroke-width="1.6"/>
<circle cx="191.55" cy="730.53" r="3.15" fill="none" stroke="#000" stroke-width="1.6"/>
<circle cx="191.55" cy="738.03" r="3.15" fill="none" stroke="#000" stroke-width="1.6"/>
<circle cx="191.55" cy="741.03" r="3.15" fill="none" stroke="#000" stroke-width="1.6"/>
<circle cx="206.84" cy="672.06" r="3.15" fill="none" stroke="#000" stroke-width="1.6"/>
<circle cx="206.84" cy="675.56" r="3.15" fill="none" stroke="#000" stroke-width="1.6"/>
<circle cx="206.84" cy="683.06" r="3.15" fill="none" stroke="#000" stroke-width="1.6"/>
<circle cx="206.84" cy="723.06" r="3.15" fill="none" stroke="#000" stroke-width="1.6"/>
<circle cx="206.84" cy="725.56" r="3.15" fill="none" stroke="#000" stroke-width="1.6"/>
<circle cx="206.84" cy="728.06" r="3.15" fill="none" stroke="#000" stroke-width="1.6"/>
<circle cx="206.84" cy="734.56" r="3.15" fill="none" stroke="#000" stroke-width="1.6"/>
<circle cx="222.13" cy="726.59" r="3.15" fill="none" stroke="#000" stroke-width="1.6"/>
<circle cx="222.13" cy="729.59" r="3.15" fill="none" stroke="#000" stroke-width="1.6"/>
<circle cx="222.13" cy="733.09" r="3.15" fill="none" stroke="#000" stroke-width="1.6"/>
<circle cx="237.42" cy="683.12" r="3.15" fill="none" stroke="#000" stroke-width="1.6"/>
<circle cx="237.42" cy="709.62" r="3.15" fill="none" stroke="#000" stroke-width="1.6"/>
<circle cx="237.42" cy="733.62" r="3.15" fill="none" stroke="#000" stroke-width="1.6"/>
<circle cx="237.42" cy="736.62" r="3.15" fill="none" stroke="#000" stroke-width="1.6"/>
<circle cx="237.42" cy="740.62" r="3.15" fill="none" stroke="#000" stroke-width="1.6"/>
<circle cx="252.71" cy="684.16" r="3.15" fill="none" stroke="#000" stroke-width="1.6"/>
<circle cx="252.71" cy="711.66" r="3.15" fill="none" stroke="#000" stroke-width="1.6"/>
<circle cx="252.71" cy="723.16" r="3.15" fill="none" stroke="#000" stroke-width="1.6"/>
<circle cx="268.00" cy="679.19" r="3.15" fill="none" stroke="#000" stroke-width="1.6"/>
<circle cx="268.00" cy="680.19" r="3.15" fill="none" stroke="#000" stroke-width="1.6"/>
<circle cx="268.00" cy="706.69" r="3.15" fill="none" stroke="#000" stroke-width="1.6"/>
<circle cx="268.00" cy="712.19" r="3.15" fill="none" stroke="#000" stroke-width="1.6"/>
<circle cx="283.29" cy="576.72" r="3.15" fill="none" stroke="#000" stroke-width="1.6"/>
<circle cx="283.29" cy="663.22" r="3.15" fill="none" stroke="#000" stroke-width="1.6"/>
<circle cx="283.29" cy="708.22" r="3.15" fill="none" stroke="#000" stroke-width="1.6"/>
<circle cx="283.29" cy="711.72" r="3.15" fill="none" stroke="#000" stroke-width="1.6"/>
<circle cx="283.29" cy="728.22" r="3.15" fill="none" stroke="#000" stroke-width="1.6"/>
<circle cx="283.29" cy="734.72" r="3.15" fill="none" stroke="#000" stroke-width="1.6"/>
<circle cx="298.58" cy="679.25" r="3.15" fill="none" stroke="#000" stroke-width="1.6"/>
<circle cx="298.58" cy="692.75" r="3.15" fill="none" stroke="#000" stroke-width="1.6"/>
<circle cx="298.58" cy="701.25" r="3.15" fill="none" stroke="#000" stroke-width="1.6"/>
<circle cx="298.58" cy="713.75" r="3.15" fill="none" stroke="#000" stroke-width="1.6"/>
<circle cx="298.58" cy="723.75" r="3.15" fill="none" stroke="#000" stroke-width="1.6"/>
<circle cx="313.87" cy="733.28" r="3.15" fill="none" stroke="#000" stroke-width="1.6"/>
<circle cx="313.87" cy="738.28" r="3.15" fill="none" stroke="#000" stroke-width="1.6"/>
<circle cx="329.16" cy="732.32" r="3.15" fill="none" stroke="#000" stroke-width="1.6"/>
<circle cx="344.45" cy="680.85" r="3.15" fill="none" stroke="#000" stroke-width="1.6"/>
<circle cx="344.45" cy="687.85" r="3.15" fill="none" stroke="#000" stroke-width="1.6"/>
<circle cx="344.45" cy="703.35" r="3.15" fill="none" stroke="#000" stroke-width="1.6"/>
<circle cx="344.45" cy="705.85" r="3.15" fill="none" stroke="#000" stroke-width="1.6"/>
<circle cx="344.45" cy="709.85" r="3.15" fill="none" stroke="#000" stroke-width="1.6"/>
<circle cx="344.45" cy="711.85" r="3.15" fill="none" stroke="#000" stroke-width="1.6"/>
<circle cx="344.45" cy="730.35" r="3.15" fill="none" stroke="#000" stroke-width="1.6"/>
<circle cx="359.74" cy="709.88" r="3.15" fill="none" stroke="#000" stroke-width="1.6"/>
<circle cx="359.74" cy="711.88" r="3.15" fill="none" stroke="#000" stroke-width="1.6"/>
<circle cx="359.74" cy="713.88" r="3.15" fill="none" stroke="#000" stroke-width="1.6"/>
<circle cx="359.74" cy="716.88" r="3.15" fill="none" stroke="#000" stroke-width="1.6"/>
<circle cx="359.74" cy="719.88" r="3.15" fill="none" stroke="#000" stroke-width="1.6"/>
<circle cx="359.74" cy="736.88" r="3.15" fill="none" stroke="#000" stroke-width="1.6"/>
<circle cx="375.03" cy="715.91" r="3.15" fill="none" stroke="#000" stroke-width="1.6"/>
<circle cx="375.03" cy="723.91" r="3.15" fill="none" stroke="#000" stroke-width="1.6"/>
<circle cx="375.03" cy="731.91" r="3.15" fill="none" stroke="#000" stroke-width="1.6"/>
<circle cx="390.32" cy="738.45" r="3.15" fill="none" stroke="#000" stroke-width="1.6"/>
<circle cx="390.32" cy="743.45" r="3.15" fill="none" stroke="#000" stroke-width="1.6"/>
<circle cx="405.61" cy="724.98" r="3.15" fill="none" stroke="#000" stroke-width="1.6"/>
<circle cx="405.61" cy="738.48" r="3.15" fill="none" stroke="#000" stroke-width="1.6"/>
<circle cx="405.61" cy="740.98" r="3.15" fill="none" stroke="#000" stroke-width="1.6"/>
<circle cx="405.61" cy="743.48" r="3.15" fill="none" stroke="#000" stroke-width="1.6"/>
<circle cx="405.61" cy="745.98" r="3.15" fill="none" stroke="#000" stroke-width="1.6"/>
<circle cx="405.61" cy="747.48" r="3.15" fill="none" stroke="#000" stroke-width="1.6"/>
<circle cx="420.90" cy="728.51" r="3.15" fill="none" stroke="#000" stroke-width="1.6"/>
<circle cx="420.90" cy="732.01" r="3.15" fill="none" stroke="#000" stroke-width="1.6"/>
<circle cx="420.90" cy="736.01" r="3.15" fill="none" stroke="#000" stroke-width="1.6"/>
<circle cx="420.90" cy="740.01" r="3.15" fill="none" stroke="#000" stroke-width="1.6"/>
<circle cx="420.90" cy="743.51" r="3.15" fill="none" stroke="#000" stroke-width="1.6"/>
<circle cx="420.90" cy="747.51" r="3.15" fill="none" stroke="#000" stroke-width="1.6"/>
<circle cx="436.19" cy="712.54" r="3.15" fill="none" stroke="#000" stroke-width="1.6"/>
<circle cx="436.19" cy="733.54" r="3.15" fill="none" stroke="#000" stroke-width="1.6"/>
<circle cx="436.19" cy="741.04" r="3.15" fill="none" stroke="#000" stroke-width="1.6"/>
<circle cx="436.19" cy="743.54" r="3.15" fill="none" stroke="#000" stroke-width="1.6"/>
<circle cx="436.19" cy="746.04" r="3.15" fill="none" stroke="#000" stroke-width="1.6"/>
<circle cx="451.48" cy="675.08" r="3.15" fill="none" stroke="#000" stroke-width="1.6"/>
<circle cx="451.48" cy="692.58" r="3.15" fill="none" stroke="#000" stroke-width="1.6"/>
<circle cx="451.48" cy="733.58" r="3.15" fill="none" stroke="#000" stroke-width="1.6"/>
<circle cx="451.48" cy="738.58" r="3.15" fill="none" stroke="#000" stroke-width="1.6"/>
<circle cx="466.77" cy="728.61" r="3.15" fill="none" stroke="#000" stroke-width="1.6"/>
<circle cx="466.77" cy="733.61" r="3.15" fill="none" stroke="#000" stroke-width="1.6"/>
<circle cx="466.77" cy="736.11" r="3.15" fill="none" stroke="#000" stroke-width="1.6"/>
<circle cx="466.77" cy="738.61" r="3.15" fill="none" stroke="#000" stroke-width="1.6"/>
<circle cx="466.77" cy="741.11" r="3.15" fill="none" stroke="#000" stroke-width="1.6"/>
<circle cx="466.77" cy="743.61" r="3.15" fill="none" stroke="#000" stroke-width="1.6"/>
<circle cx="482.06" cy="687.64" r="3.15" fill="none" stroke="#000" stroke-width="1.6"/>
<circle cx="482.06" cy="713.64" r="3.15" fill="none" stroke="#000" stroke-width="1.6"/>
<circle cx="482.06" cy="718.64" r="3.15" fill="none" stroke="#000" stroke-width="1.6"/>
<circle cx="482.06" cy="736.14" r="3.15" fill="none" stroke="#000" stroke-width="1.6"/>
<circle cx="497.35" cy="704.67" r="3.15" fill="none" stroke="#000" stroke-width="1.6"/>
<circle cx="497.35" cy="727.67" r="3.15" fill="none" stroke="#000" stroke-width="1.6"/>
<text x="122.70" y="957.80" font-size="19.4" text-anchor="end" font-weight="normal" transform="rotate(-90 122.70 957.80)" letter-spacing="-0.60" stroke="#000" stroke-width="0.7">M1</text>
<text x="137.99" y="957.80" font-size="19.4" text-anchor="end" font-weight="normal" transform="rotate(-90 137.99 957.80)" letter-spacing="-0.60" stroke="#000" stroke-width="0.7">M2</text>
<text x="153.58" y="957.80" font-size="19.4" text-anchor="end" font-weight="normal" transform="rotate(-90 153.58 957.80)" letter-spacing="-0.60" stroke="#000" stroke-width="0.7">M3</text>
<text x="168.27" y="957.80" font-size="19.4" text-anchor="end" font-weight="normal" transform="rotate(-90 168.27 957.80)" letter-spacing="-0.60" stroke="#000" stroke-width="0.7">M4</text>
<text x="185.16" y="957.80" font-size="19.4" text-anchor="end" font-weight="normal" transform="rotate(-90 185.16 957.80)" letter-spacing="-0.60" stroke="#000" stroke-width="0.7">M5a</text>
<text x="200.45" y="957.80" font-size="19.4" text-anchor="end" font-weight="normal" transform="rotate(-90 200.45 957.80)" letter-spacing="-0.60" stroke="#000" stroke-width="0.7">M5b</text>
<text x="215.24" y="957.80" font-size="19.4" text-anchor="end" font-weight="normal" transform="rotate(-90 215.24 957.80)" letter-spacing="-0.60" stroke="#000" stroke-width="0.7">M6</text>
<text x="231.93" y="948.05" font-size="19.4" text-anchor="end" font-weight="normal" transform="rotate(-90 231.93 948.05)" letter-spacing="2.65" stroke="#000" stroke-width="0.7">ALL</text>
<text x="244.12" y="951.55" font-size="19.4" text-anchor="end" font-weight="normal" transform="rotate(-90 244.12 951.55)" letter-spacing="0.65" stroke="#000" stroke-width="0.7">CMLCP</text>
<text x="261.71" y="957.80" font-size="19.4" text-anchor="end" font-weight="normal" transform="rotate(-90 261.71 957.80)" letter-spacing="-0.60" stroke="#000" stroke-width="0.7">RA</text>
<text x="276.90" y="957.80" font-size="19.4" text-anchor="end" font-weight="normal" transform="rotate(-90 276.90 957.80)" letter-spacing="-0.60" stroke="#000" stroke-width="0.7">RARS</text>
<text x="291.59" y="954.47" font-size="19.4" text-anchor="end" font-weight="normal" transform="rotate(-90 291.59 954.47)" letter-spacing="0.23" stroke="#000" stroke-width="0.7">RAEB</text>
<text x="306.88" y="949.68" font-size="19.4" text-anchor="end" font-weight="normal" transform="rotate(-90 306.88 949.68)" letter-spacing="1.02" stroke="#000" stroke-width="0.7">RAEBT</text>
<text x="321.17" y="951.97" font-size="19.4" text-anchor="end" font-weight="normal" transform="rotate(-90 321.17 951.97)" letter-spacing="0.23" stroke="#000" stroke-width="0.7">AML/MDS</text>
<text x="339.26" y="957.80" font-size="19.4" text-anchor="end" font-weight="normal" transform="rotate(-90 339.26 957.80)" letter-spacing="-0.60" stroke="#000" stroke-width="0.7">AA</text>
<text x="354.55" y="957.80" font-size="19.4" text-anchor="end" font-weight="normal" transform="rotate(-90 354.55 957.80)" letter-spacing="-0.60" stroke="#000" stroke-width="0.7">non-mal</text>
<text x="370.84" y="957.80" font-size="19.4" text-anchor="end" font-weight="normal" transform="rotate(-90 370.84 957.80)" letter-spacing="-0.60" stroke="#000" stroke-width="0.7">normal</text>
<text x="387.63" y="957.80" font-size="19.4" text-anchor="end" font-weight="normal" transform="rotate(-90 387.63 957.80)" letter-spacing="-0.60" stroke="#000" stroke-width="0.7">M1</text>
<text x="400.12" y="957.80" font-size="19.4" text-anchor="end" font-weight="normal" transform="rotate(-90 400.12 957.80)" letter-spacing="-0.60" stroke="#000" stroke-width="0.7">M2</text>
<text x="415.41" y="957.80" font-size="19.4" text-anchor="end" font-weight="normal" transform="rotate(-90 415.41 957.80)" letter-spacing="-0.60" stroke="#000" stroke-width="0.7">M4</text>
<text x="430.70" y="957.80" font-size="19.4" text-anchor="end" font-weight="normal" transform="rotate(-90 430.70 957.80)" letter-spacing="-0.60" stroke="#000" stroke-width="0.7">M5</text>
<text x="452.29" y="948.05" font-size="19.4" text-anchor="end" font-weight="normal" transform="rotate(-90 452.29 948.05)" letter-spacing="2.65" stroke="#000" stroke-width="0.7">ALL</text>
<text x="464.38" y="947.30" font-size="19.4" text-anchor="end" font-weight="normal" transform="rotate(-90 464.38 947.30)" letter-spacing="2.90" stroke="#000" stroke-width="0.7">CML</text>
<text x="479.67" y="951.97" font-size="19.4" text-anchor="end" font-weight="normal" transform="rotate(-90 479.67 951.97)" letter-spacing="0.23" stroke="#000" stroke-width="0.7">AML/MDS</text>
<text x="490.36" y="954.47" font-size="19.4" text-anchor="end" font-weight="normal" transform="rotate(-90 490.36 954.47)" letter-spacing="0.23" stroke="#000" stroke-width="0.7">RAEB</text>
<text x="506.45" y="952.80" font-size="19.4" text-anchor="end" font-weight="normal" transform="rotate(-90 506.45 952.80)" letter-spacing="0.40" stroke="#000" stroke-width="0.7">RAEBT</text>
<path d="M108.60 1033.60 C108.60 1041.55,118.00 1048.00,129.60 1048.00 L331.50 1048.00 C343.10 1048.00,352.50 1041.55,352.50 1033.60 M356.30 1033.60 C356.30 1041.50,363.91 1047.90,373.30 1047.90 L497.40 1047.90 C504.41 1047.90,510.10 1041.50,510.10 1033.60" fill="none" stroke="#000" stroke-width="2"/>
<text x="147.66" y="1074.20" font-size="24" text-anchor="start" font-weight="normal" letter-spacing="0.57" stroke="#000" stroke-width="0.65">BONE MARROW</text>
<text x="391.66" y="1070.90" font-size="24" text-anchor="start" font-weight="normal" letter-spacing="0.6" stroke="#000" stroke-width="0.65">PB-MNC</text>
<text x="1.98" y="582.53" font-size="36" text-anchor="start" font-weight="bold" stroke="#000" stroke-width="0">B</text>
<text transform="translate(27.06 733.98) rotate(-90) scale(1 1.07)" x="0" y="0" font-size="32.5" text-anchor="middle" stroke="#000" stroke-width="0.15" letter-spacing="0.95">TfR2-&#946; (%K562)</text>
<!-- panel C -->
<line x1="83.80" y1="1118.80" x2="83.80" y2="1328.60" stroke="#000" stroke-width="1.6"/>
<line x1="83.80" y1="1337.60" x2="83.80" y2="1547.60" stroke="#000" stroke-width="1.6"/>
<line x1="79.80" y1="1337.60" x2="84.60" y2="1337.60" stroke="#000" stroke-width="1.6"/>
<line x1="78.80" y1="1328.60" x2="505.80" y2="1328.60" stroke="#000" stroke-width="1.8"/>
<line x1="76.80" y1="1547.60" x2="514.50" y2="1547.60" stroke="#000" stroke-width="1.7"/>
<line x1="79.30" y1="1118.80" x2="83.80" y2="1118.80" stroke="#000" stroke-width="1.6"/>
<text x="71.75" y="1127.30" font-size="19" text-anchor="end" font-weight="normal" stroke="#000" stroke-width="0.75">250</text>
<line x1="79.30" y1="1160.80" x2="83.80" y2="1160.80" stroke="#000" stroke-width="1.6"/>
<text x="71.66" y="1169.10" font-size="19" text-anchor="end" font-weight="normal" stroke="#000" stroke-width="0.75">200</text>
<line x1="79.30" y1="1203.00" x2="83.80" y2="1203.00" stroke="#000" stroke-width="1.6"/>
<text x="71.57" y="1211.50" font-size="19" text-anchor="end" font-weight="normal" stroke="#000" stroke-width="0.75">150</text>
<line x1="79.30" y1="1244.40" x2="83.80" y2="1244.40" stroke="#000" stroke-width="1.6"/>
<text x="71.48" y="1252.70" font-size="19" text-anchor="end" font-weight="normal" stroke="#000" stroke-width="0.75">100</text>
<line x1="79.30" y1="1286.70" x2="83.80" y2="1286.70" stroke="#000" stroke-width="1.6"/>
<text x="71.39" y="1295.40" font-size="19" text-anchor="end" font-weight="normal" stroke="#000" stroke-width="0.75">50</text>
<line x1="79.30" y1="1328.60" x2="83.80" y2="1328.60" stroke="#000" stroke-width="1.6"/>
<text x="72.30" y="1337.20" font-size="19" text-anchor="end" font-weight="normal" stroke="#000" stroke-width="0.75">0</text>
<line x1="79.30" y1="1361.50" x2="83.80" y2="1361.50" stroke="#000" stroke-width="1.6"/>
<text x="71.23" y="1369.00" font-size="19" text-anchor="end" font-weight="normal" stroke="#000" stroke-width="0.75">160</text>
<line x1="79.30" y1="1384.50" x2="83.80" y2="1384.50" stroke="#000" stroke-width="1.6"/>
<text x="71.19" y="1392.30" font-size="19" text-anchor="end" font-weight="normal" stroke="#000" stroke-width="0.75">140</text>
<line x1="79.30" y1="1407.80" x2="83.80" y2="1407.80" stroke="#000" stroke-width="1.6"/>
<text x="71.14" y="1415.20" font-size="19" text-anchor="end" font-weight="normal" stroke="#000" stroke-width="0.75">120</text>
<line x1="79.30" y1="1431.10" x2="83.80" y2="1431.10" stroke="#000" stroke-width="1.6"/>
<text x="71.09" y="1438.70" font-size="19" text-anchor="end" font-weight="normal" stroke="#000" stroke-width="0.75">100</text>
<line x1="79.30" y1="1454.30" x2="83.80" y2="1454.30" stroke="#000" stroke-width="1.6"/>
<text x="71.04" y="1462.10" font-size="19" text-anchor="end" font-weight="normal" stroke="#000" stroke-width="0.75">80</text>
<line x1="79.30" y1="1477.60" x2="83.80" y2="1477.60" stroke="#000" stroke-width="1.6"/>
<text x="70.99" y="1485.40" font-size="19" text-anchor="end" font-weight="normal" stroke="#000" stroke-width="0.75">60</text>
<line x1="79.30" y1="1500.80" x2="83.80" y2="1500.80" stroke="#000" stroke-width="1.6"/>
<text x="70.94" y="1508.60" font-size="19" text-anchor="end" font-weight="normal" stroke="#000" stroke-width="0.75">40</text>
<line x1="79.30" y1="1524.10" x2="83.80" y2="1524.10" stroke="#000" stroke-width="1.6"/>
<text x="70.89" y="1531.70" font-size="19" text-anchor="end" font-weight="normal" stroke="#000" stroke-width="0.75">20</text>
<line x1="79.30" y1="1547.60" x2="83.80" y2="1547.60" stroke="#000" stroke-width="1.6"/>
<text x="71.84" y="1556.00" font-size="19" text-anchor="end" font-weight="normal" stroke="#000" stroke-width="0.75">0</text>
<line x1="79.50" y1="1139.80" x2="83.80" y2="1139.80" stroke="#000" stroke-width="1.4"/>
<line x1="79.50" y1="1181.80" x2="83.80" y2="1181.80" stroke="#000" stroke-width="1.4"/>
<line x1="79.50" y1="1223.20" x2="83.80" y2="1223.20" stroke="#000" stroke-width="1.4"/>
<line x1="79.50" y1="1265.80" x2="83.80" y2="1265.80" stroke="#000" stroke-width="1.4"/>
<line x1="79.50" y1="1307.70" x2="83.80" y2="1307.70" stroke="#000" stroke-width="1.4"/>
<line x1="81.00" y1="1535.95" x2="83.80" y2="1535.95" stroke="#000" stroke-width="1.2"/>
<line x1="81.00" y1="1512.65" x2="83.80" y2="1512.65" stroke="#000" stroke-width="1.2"/>
<line x1="81.00" y1="1489.35" x2="83.80" y2="1489.35" stroke="#000" stroke-width="1.2"/>
<line x1="81.00" y1="1466.05" x2="83.80" y2="1466.05" stroke="#000" stroke-width="1.2"/>
<line x1="81.00" y1="1442.75" x2="83.80" y2="1442.75" stroke="#000" stroke-width="1.2"/>
<line x1="81.00" y1="1419.45" x2="83.80" y2="1419.45" stroke="#000" stroke-width="1.2"/>
<line x1="81.00" y1="1396.15" x2="83.80" y2="1396.15" stroke="#000" stroke-width="1.2"/>
<line x1="81.00" y1="1372.85" x2="83.80" y2="1372.85" stroke="#000" stroke-width="1.2"/>
<line x1="81.00" y1="1349.55" x2="83.80" y2="1349.55" stroke="#000" stroke-width="1.2"/>
<line x1="115.50" y1="1328.60" x2="115.50" y2="1331.60" stroke="#000" stroke-width="1.4"/>
<line x1="114.80" y1="1547.60" x2="114.80" y2="1550.60" stroke="#000" stroke-width="1.4"/>
<line x1="130.79" y1="1328.60" x2="130.79" y2="1331.60" stroke="#000" stroke-width="1.4"/>
<line x1="130.09" y1="1547.60" x2="130.09" y2="1550.60" stroke="#000" stroke-width="1.4"/>
<line x1="146.08" y1="1328.60" x2="146.08" y2="1331.60" stroke="#000" stroke-width="1.4"/>
<line x1="145.38" y1="1547.60" x2="145.38" y2="1550.60" stroke="#000" stroke-width="1.4"/>
<line x1="161.37" y1="1328.60" x2="161.37" y2="1331.60" stroke="#000" stroke-width="1.4"/>
<line x1="160.67" y1="1547.60" x2="160.67" y2="1550.60" stroke="#000" stroke-width="1.4"/>
<line x1="176.66" y1="1328.60" x2="176.66" y2="1331.60" stroke="#000" stroke-width="1.4"/>
<line x1="175.96" y1="1547.60" x2="175.96" y2="1550.60" stroke="#000" stroke-width="1.4"/>
<line x1="191.95" y1="1328.60" x2="191.95" y2="1331.60" stroke="#000" stroke-width="1.4"/>
<line x1="191.25" y1="1547.60" x2="191.25" y2="1550.60" stroke="#000" stroke-width="1.4"/>
<line x1="207.24" y1="1328.60" x2="207.24" y2="1331.60" stroke="#000" stroke-width="1.4"/>
<line x1="206.54" y1="1547.60" x2="206.54" y2="1550.60" stroke="#000" stroke-width="1.4"/>
<line x1="222.53" y1="1328.60" x2="222.53" y2="1331.60" stroke="#000" stroke-width="1.4"/>
<line x1="221.83" y1="1547.60" x2="221.83" y2="1550.60" stroke="#000" stroke-width="1.4"/>
<line x1="237.82" y1="1328.60" x2="237.82" y2="1331.60" stroke="#000" stroke-width="1.4"/>
<line x1="237.12" y1="1547.60" x2="237.12" y2="1550.60" stroke="#000" stroke-width="1.4"/>
<line x1="253.11" y1="1328.60" x2="253.11" y2="1331.60" stroke="#000" stroke-width="1.4"/>
<line x1="252.41" y1="1547.60" x2="252.41" y2="1550.60" stroke="#000" stroke-width="1.4"/>
<line x1="268.40" y1="1328.60" x2="268.40" y2="1331.60" stroke="#000" stroke-width="1.4"/>
<line x1="267.70" y1="1547.60" x2="267.70" y2="1550.60" stroke="#000" stroke-width="1.4"/>
<line x1="283.69" y1="1328.60" x2="283.69" y2="1331.60" stroke="#000" stroke-width="1.4"/>
<line x1="282.99" y1="1547.60" x2="282.99" y2="1550.60" stroke="#000" stroke-width="1.4"/>
<line x1="298.98" y1="1328.60" x2="298.98" y2="1331.60" stroke="#000" stroke-width="1.4"/>
<line x1="298.28" y1="1547.60" x2="298.28" y2="1550.60" stroke="#000" stroke-width="1.4"/>
<line x1="314.27" y1="1328.60" x2="314.27" y2="1331.60" stroke="#000" stroke-width="1.4"/>
<line x1="313.57" y1="1547.60" x2="313.57" y2="1550.60" stroke="#000" stroke-width="1.4"/>
<line x1="329.56" y1="1328.60" x2="329.56" y2="1331.60" stroke="#000" stroke-width="1.4"/>
<line x1="328.86" y1="1547.60" x2="328.86" y2="1550.60" stroke="#000" stroke-width="1.4"/>
<line x1="344.85" y1="1328.60" x2="344.85" y2="1331.60" stroke="#000" stroke-width="1.4"/>
<line x1="344.15" y1="1547.60" x2="344.15" y2="1550.60" stroke="#000" stroke-width="1.4"/>
<line x1="360.14" y1="1328.60" x2="360.14" y2="1331.60" stroke="#000" stroke-width="1.4"/>
<line x1="359.44" y1="1547.60" x2="359.44" y2="1550.60" stroke="#000" stroke-width="1.4"/>
<line x1="375.43" y1="1328.60" x2="375.43" y2="1331.60" stroke="#000" stroke-width="1.4"/>
<line x1="374.73" y1="1547.60" x2="374.73" y2="1550.60" stroke="#000" stroke-width="1.4"/>
<line x1="390.72" y1="1328.60" x2="390.72" y2="1331.60" stroke="#000" stroke-width="1.4"/>
<line x1="390.02" y1="1547.60" x2="390.02" y2="1550.60" stroke="#000" stroke-width="1.4"/>
<line x1="406.01" y1="1328.60" x2="406.01" y2="1331.60" stroke="#000" stroke-width="1.4"/>
<line x1="405.31" y1="1547.60" x2="405.31" y2="1550.60" stroke="#000" stroke-width="1.4"/>
<line x1="421.30" y1="1328.60" x2="421.30" y2="1331.60" stroke="#000" stroke-width="1.4"/>
<line x1="420.60" y1="1547.60" x2="420.60" y2="1550.60" stroke="#000" stroke-width="1.4"/>
<line x1="436.59" y1="1328.60" x2="436.59" y2="1331.60" stroke="#000" stroke-width="1.4"/>
<line x1="435.89" y1="1547.60" x2="435.89" y2="1550.60" stroke="#000" stroke-width="1.4"/>
<line x1="451.88" y1="1328.60" x2="451.88" y2="1331.60" stroke="#000" stroke-width="1.4"/>
<line x1="451.18" y1="1547.60" x2="451.18" y2="1550.60" stroke="#000" stroke-width="1.4"/>
<line x1="467.17" y1="1328.60" x2="467.17" y2="1331.60" stroke="#000" stroke-width="1.4"/>
<line x1="466.47" y1="1547.60" x2="466.47" y2="1550.60" stroke="#000" stroke-width="1.4"/>
<line x1="482.46" y1="1328.60" x2="482.46" y2="1331.60" stroke="#000" stroke-width="1.4"/>
<line x1="481.76" y1="1547.60" x2="481.76" y2="1550.60" stroke="#000" stroke-width="1.4"/>
<line x1="497.75" y1="1328.60" x2="497.75" y2="1331.60" stroke="#000" stroke-width="1.4"/>
<line x1="497.05" y1="1547.60" x2="497.05" y2="1550.60" stroke="#000" stroke-width="1.4"/>
<line x1="114.80" y1="1483.60" x2="114.80" y2="1484.30" stroke="#000" stroke-width="1.5"/>
<line x1="112.10" y1="1483.60" x2="117.50" y2="1483.60" stroke="#000" stroke-width="1.8"/>
<rect x="108.30" y="1484.30" width="13.0" height="63.30" fill="#fff" stroke="#000" stroke-width="1.45"/>
<line x1="130.09" y1="1482.30" x2="130.09" y2="1491.90" stroke="#000" stroke-width="1.5"/>
<line x1="127.39" y1="1482.30" x2="132.79" y2="1482.30" stroke="#000" stroke-width="1.8"/>
<rect x="123.59" y="1491.90" width="13.0" height="55.70" fill="#fff" stroke="#000" stroke-width="1.45"/>
<line x1="145.38" y1="1492.30" x2="145.38" y2="1501.10" stroke="#000" stroke-width="1.5"/>
<line x1="142.68" y1="1492.30" x2="148.08" y2="1492.30" stroke="#000" stroke-width="1.8"/>
<rect x="138.88" y="1501.10" width="13.0" height="46.50" fill="#fff" stroke="#000" stroke-width="1.45"/>
<line x1="160.67" y1="1461.60" x2="160.67" y2="1486.90" stroke="#000" stroke-width="1.5"/>
<line x1="157.97" y1="1461.60" x2="163.37" y2="1461.60" stroke="#000" stroke-width="1.8"/>
<rect x="154.17" y="1486.90" width="13.0" height="60.70" fill="#fff" stroke="#000" stroke-width="1.45"/>
<line x1="175.96" y1="1425.10" x2="175.96" y2="1452.60" stroke="#000" stroke-width="1.5"/>
<line x1="173.26" y1="1425.10" x2="178.66" y2="1425.10" stroke="#000" stroke-width="1.8"/>
<rect x="169.46" y="1452.60" width="13.0" height="95.00" fill="#fff" stroke="#000" stroke-width="1.45"/>
<line x1="191.25" y1="1521.10" x2="191.25" y2="1526.10" stroke="#000" stroke-width="1.5"/>
<line x1="188.55" y1="1521.10" x2="193.95" y2="1521.10" stroke="#000" stroke-width="1.8"/>
<rect x="184.75" y="1526.10" width="13.0" height="21.50" fill="#fff" stroke="#000" stroke-width="1.45"/>
<line x1="206.54" y1="1349.60" x2="206.54" y2="1374.60" stroke="#000" stroke-width="1.5"/>
<line x1="203.84" y1="1349.60" x2="209.24" y2="1349.60" stroke="#000" stroke-width="1.8"/>
<rect x="200.04" y="1374.60" width="13.0" height="173.00" fill="#fff" stroke="#000" stroke-width="1.45"/>
<line x1="221.83" y1="1487.10" x2="221.83" y2="1501.10" stroke="#000" stroke-width="1.5"/>
<line x1="219.13" y1="1487.10" x2="224.53" y2="1487.10" stroke="#000" stroke-width="1.8"/>
<rect x="215.33" y="1501.10" width="13.0" height="46.50" fill="#fff" stroke="#000" stroke-width="1.45"/>
<line x1="237.12" y1="1464.60" x2="237.12" y2="1476.10" stroke="#000" stroke-width="1.5"/>
<line x1="234.42" y1="1464.60" x2="239.82" y2="1464.60" stroke="#000" stroke-width="1.8"/>
<rect x="230.62" y="1476.10" width="13.0" height="71.50" fill="#fff" stroke="#000" stroke-width="1.45"/>
<line x1="252.41" y1="1446.10" x2="252.41" y2="1467.60" stroke="#000" stroke-width="1.5"/>
<line x1="249.71" y1="1446.10" x2="255.11" y2="1446.10" stroke="#000" stroke-width="1.8"/>
<rect x="245.91" y="1467.60" width="13.0" height="80.00" fill="#fff" stroke="#000" stroke-width="1.45"/>
<line x1="267.70" y1="1437.60" x2="267.70" y2="1452.60" stroke="#000" stroke-width="1.5"/>
<line x1="265.00" y1="1437.60" x2="270.40" y2="1437.60" stroke="#000" stroke-width="1.8"/>
<rect x="261.20" y="1452.60" width="13.0" height="95.00" fill="#fff" stroke="#000" stroke-width="1.45"/>
<line x1="282.99" y1="1418.60" x2="282.99" y2="1447.60" stroke="#000" stroke-width="1.5"/>
<line x1="280.29" y1="1418.60" x2="285.69" y2="1418.60" stroke="#000" stroke-width="1.8"/>
<rect x="276.49" y="1447.60" width="13.0" height="100.00" fill="#fff" stroke="#000" stroke-width="1.45"/>
<line x1="298.28" y1="1446.10" x2="298.28" y2="1461.10" stroke="#000" stroke-width="1.5"/>
<line x1="295.58" y1="1446.10" x2="300.98" y2="1446.10" stroke="#000" stroke-width="1.8"/>
<rect x="291.78" y="1461.10" width="13.0" height="86.50" fill="#fff" stroke="#000" stroke-width="1.45"/>
<line x1="313.57" y1="1517.10" x2="313.57" y2="1519.60" stroke="#000" stroke-width="1.5"/>
<line x1="310.87" y1="1517.10" x2="316.27" y2="1517.10" stroke="#000" stroke-width="1.8"/>
<rect x="307.07" y="1519.60" width="13.0" height="28.00" fill="#fff" stroke="#000" stroke-width="1.45"/>
<rect x="322.36" y="1532.10" width="13.0" height="15.50" fill="#fff" stroke="#000" stroke-width="1.45"/>
<line x1="344.15" y1="1469.10" x2="344.15" y2="1475.90" stroke="#000" stroke-width="1.5"/>
<line x1="341.45" y1="1469.10" x2="346.85" y2="1469.10" stroke="#000" stroke-width="1.8"/>
<rect x="337.65" y="1475.90" width="13.0" height="71.70" fill="#6e6e6e" stroke="#000" stroke-width="1.45"/>
<line x1="359.44" y1="1512.10" x2="359.44" y2="1515.60" stroke="#000" stroke-width="1.5"/>
<line x1="356.74" y1="1512.10" x2="362.14" y2="1512.10" stroke="#000" stroke-width="1.8"/>
<rect x="352.94" y="1515.60" width="13.0" height="32.00" fill="#6e6e6e" stroke="#000" stroke-width="1.45"/>
<line x1="374.73" y1="1440.10" x2="374.73" y2="1467.60" stroke="#000" stroke-width="1.5"/>
<line x1="372.03" y1="1440.10" x2="377.43" y2="1440.10" stroke="#000" stroke-width="1.8"/>
<rect x="368.23" y="1467.60" width="13.0" height="80.00" fill="#fff" stroke="#000" stroke-width="1.45"/>
<line x1="390.02" y1="1511.10" x2="390.02" y2="1517.30" stroke="#000" stroke-width="1.5"/>
<line x1="387.32" y1="1511.10" x2="392.72" y2="1511.10" stroke="#000" stroke-width="1.8"/>
<rect x="383.52" y="1517.30" width="13.0" height="30.30" fill="#fff" stroke="#000" stroke-width="1.45"/>
<line x1="405.31" y1="1509.10" x2="405.31" y2="1517.30" stroke="#000" stroke-width="1.5"/>
<line x1="402.61" y1="1509.10" x2="408.01" y2="1509.10" stroke="#000" stroke-width="1.8"/>
<rect x="398.81" y="1517.30" width="13.0" height="30.30" fill="#fff" stroke="#000" stroke-width="1.45"/>
<line x1="420.60" y1="1509.80" x2="420.60" y2="1517.30" stroke="#000" stroke-width="1.5"/>
<line x1="417.90" y1="1509.80" x2="423.30" y2="1509.80" stroke="#000" stroke-width="1.8"/>
<rect x="414.10" y="1517.30" width="13.0" height="30.30" fill="#fff" stroke="#000" stroke-width="1.45"/>
<line x1="435.89" y1="1486.80" x2="435.89" y2="1500.30" stroke="#000" stroke-width="1.5"/>
<line x1="433.19" y1="1486.80" x2="438.59" y2="1486.80" stroke="#000" stroke-width="1.8"/>
<rect x="429.39" y="1500.30" width="13.0" height="47.30" fill="#fff" stroke="#000" stroke-width="1.45"/>
<line x1="451.18" y1="1453.60" x2="451.18" y2="1480.60" stroke="#000" stroke-width="1.5"/>
<line x1="448.48" y1="1453.60" x2="453.88" y2="1453.60" stroke="#000" stroke-width="1.8"/>
<rect x="444.68" y="1480.60" width="13.0" height="67.00" fill="#fff" stroke="#000" stroke-width="1.45"/>
<line x1="466.47" y1="1512.80" x2="466.47" y2="1518.60" stroke="#000" stroke-width="1.5"/>
<line x1="463.77" y1="1512.80" x2="469.17" y2="1512.80" stroke="#000" stroke-width="1.8"/>
<rect x="459.97" y="1518.60" width="13.0" height="29.00" fill="#fff" stroke="#000" stroke-width="1.45"/>
<line x1="481.76" y1="1434.60" x2="481.76" y2="1465.30" stroke="#000" stroke-width="1.5"/>
<line x1="479.06" y1="1434.60" x2="484.46" y2="1434.60" stroke="#000" stroke-width="1.8"/>
<rect x="475.26" y="1465.30" width="13.0" height="82.30" fill="#fff" stroke="#000" stroke-width="1.45"/>
<line x1="497.05" y1="1485.60" x2="497.05" y2="1498.10" stroke="#000" stroke-width="1.5"/>
<line x1="494.35" y1="1485.60" x2="499.75" y2="1485.60" stroke="#000" stroke-width="1.8"/>
<rect x="490.55" y="1498.10" width="13.0" height="49.50" fill="#fff" stroke="#000" stroke-width="1.45"/>
<circle cx="115.50" cy="1280.57" r="3.15" fill="none" stroke="#000" stroke-width="1.6"/>
<circle cx="115.50" cy="1282.57" r="3.15" fill="none" stroke="#000" stroke-width="1.6"/>
<circle cx="115.50" cy="1284.57" r="3.15" fill="none" stroke="#000" stroke-width="1.6"/>
<circle cx="115.50" cy="1286.57" r="3.15" fill="none" stroke="#000" stroke-width="1.6"/>
<circle cx="130.79" cy="1268.60" r="3.15" fill="none" stroke="#000" stroke-width="1.6"/>
<circle cx="130.79" cy="1273.10" r="3.15" fill="none" stroke="#000" stroke-width="1.6"/>
<circle cx="130.79" cy="1284.80" r="3.15" fill="none" stroke="#000" stroke-width="1.6"/>
<circle cx="130.79" cy="1289.10" r="3.15" fill="none" stroke="#000" stroke-width="1.6"/>
<circle cx="130.79" cy="1299.60" r="3.15" fill="none" stroke="#000" stroke-width="1.6"/>
<circle cx="130.79" cy="1312.80" r="3.15" fill="none" stroke="#000" stroke-width="1.6"/>
<circle cx="146.08" cy="1267.13" r="3.15" fill="none" stroke="#000" stroke-width="1.6"/>
<circle cx="146.08" cy="1295.43" r="3.15" fill="none" stroke="#000" stroke-width="1.6"/>
<circle cx="146.08" cy="1300.63" r="3.15" fill="none" stroke="#000" stroke-width="1.6"/>
<circle cx="146.08" cy="1308.43" r="3.15" fill="none" stroke="#000" stroke-width="1.6"/>
<circle cx="161.37" cy="1207.16" r="3.15" fill="none" stroke="#000" stroke-width="1.6"/>
<circle cx="161.37" cy="1254.16" r="3.15" fill="none" stroke="#000" stroke-width="1.6"/>
<circle cx="161.37" cy="1302.66" r="3.15" fill="none" stroke="#000" stroke-width="1.6"/>
<circle cx="161.37" cy="1307.66" r="3.15" fill="none" stroke="#000" stroke-width="1.6"/>
<circle cx="161.37" cy="1311.66" r="3.15" fill="none" stroke="#000" stroke-width="1.6"/>
<circle cx="161.37" cy="1322.16" r="3.15" fill="none" stroke="#000" stroke-width="1.6"/>
<circle cx="176.66" cy="1220.19" r="3.15" fill="none" stroke="#000" stroke-width="1.6"/>
<circle cx="176.66" cy="1273.69" r="3.15" fill="none" stroke="#000" stroke-width="1.6"/>
<circle cx="176.66" cy="1283.19" r="3.15" fill="none" stroke="#000" stroke-width="1.6"/>
<circle cx="191.95" cy="1306.23" r="3.15" fill="none" stroke="#000" stroke-width="1.6"/>
<circle cx="191.95" cy="1308.73" r="3.15" fill="none" stroke="#000" stroke-width="1.6"/>
<circle cx="191.95" cy="1315.23" r="3.15" fill="none" stroke="#000" stroke-width="1.6"/>
<circle cx="191.95" cy="1322.73" r="3.15" fill="none" stroke="#000" stroke-width="1.6"/>
<circle cx="207.24" cy="1146.26" r="3.15" fill="none" stroke="#000" stroke-width="1.6"/>
<circle cx="207.24" cy="1174.26" r="3.15" fill="none" stroke="#000" stroke-width="1.6"/>
<circle cx="207.24" cy="1185.26" r="3.15" fill="none" stroke="#000" stroke-width="1.6"/>
<circle cx="207.24" cy="1194.26" r="3.15" fill="none" stroke="#000" stroke-width="1.6"/>
<circle cx="207.24" cy="1196.26" r="3.15" fill="none" stroke="#000" stroke-width="1.6"/>
<circle cx="207.24" cy="1237.76" r="3.15" fill="none" stroke="#000" stroke-width="1.6"/>
<circle cx="207.24" cy="1290.26" r="3.15" fill="none" stroke="#000" stroke-width="1.6"/>
<circle cx="222.53" cy="1273.79" r="3.15" fill="none" stroke="#000" stroke-width="1.6"/>
<circle cx="222.53" cy="1303.29" r="3.15" fill="none" stroke="#000" stroke-width="1.6"/>
<circle cx="222.53" cy="1306.29" r="3.15" fill="none" stroke="#000" stroke-width="1.6"/>
<circle cx="237.82" cy="1259.82" r="3.15" fill="none" stroke="#000" stroke-width="1.6"/>
<circle cx="237.82" cy="1266.82" r="3.15" fill="none" stroke="#000" stroke-width="1.6"/>
<circle cx="237.82" cy="1281.82" r="3.15" fill="none" stroke="#000" stroke-width="1.6"/>
<circle cx="237.82" cy="1310.32" r="3.15" fill="none" stroke="#000" stroke-width="1.6"/>
<circle cx="253.11" cy="1240.36" r="3.15" fill="none" stroke="#000" stroke-width="1.6"/>
<circle cx="253.11" cy="1281.36" r="3.15" fill="none" stroke="#000" stroke-width="1.6"/>
<circle cx="253.11" cy="1290.36" r="3.15" fill="none" stroke="#000" stroke-width="1.6"/>
<circle cx="268.40" cy="1233.89" r="3.15" fill="none" stroke="#000" stroke-width="1.6"/>
<circle cx="268.40" cy="1253.89" r="3.15" fill="none" stroke="#000" stroke-width="1.6"/>
<circle cx="268.40" cy="1274.39" r="3.15" fill="none" stroke="#000" stroke-width="1.6"/>
<circle cx="268.40" cy="1276.39" r="3.15" fill="none" stroke="#000" stroke-width="1.6"/>
<circle cx="283.69" cy="1132.92" r="3.15" fill="none" stroke="#000" stroke-width="1.6"/>
<circle cx="283.69" cy="1201.42" r="3.15" fill="none" stroke="#000" stroke-width="1.6"/>
<circle cx="283.69" cy="1266.42" r="3.15" fill="none" stroke="#000" stroke-width="1.6"/>
<circle cx="283.69" cy="1274.42" r="3.15" fill="none" stroke="#000" stroke-width="1.6"/>
<circle cx="283.69" cy="1287.42" r="3.15" fill="none" stroke="#000" stroke-width="1.6"/>
<circle cx="283.69" cy="1316.92" r="3.15" fill="none" stroke="#000" stroke-width="1.6"/>
<circle cx="298.98" cy="1241.45" r="3.15" fill="none" stroke="#000" stroke-width="1.6"/>
<circle cx="298.98" cy="1255.45" r="3.15" fill="none" stroke="#000" stroke-width="1.6"/>
<circle cx="298.98" cy="1273.95" r="3.15" fill="none" stroke="#000" stroke-width="1.6"/>
<circle cx="298.98" cy="1291.45" r="3.15" fill="none" stroke="#000" stroke-width="1.6"/>
<circle cx="314.27" cy="1305.48" r="3.15" fill="none" stroke="#000" stroke-width="1.6"/>
<circle cx="314.27" cy="1311.98" r="3.15" fill="none" stroke="#000" stroke-width="1.6"/>
<circle cx="329.56" cy="1317.02" r="3.15" fill="none" stroke="#000" stroke-width="1.6"/>
<circle cx="344.85" cy="1247.55" r="3.15" fill="none" stroke="#000" stroke-width="1.6"/>
<circle cx="344.85" cy="1268.05" r="3.15" fill="none" stroke="#000" stroke-width="1.6"/>
<circle cx="344.85" cy="1273.05" r="3.15" fill="none" stroke="#000" stroke-width="1.6"/>
<circle cx="344.85" cy="1277.05" r="3.15" fill="none" stroke="#000" stroke-width="1.6"/>
<circle cx="344.85" cy="1283.05" r="3.15" fill="none" stroke="#000" stroke-width="1.6"/>
<circle cx="344.85" cy="1287.05" r="3.15" fill="none" stroke="#000" stroke-width="1.6"/>
<circle cx="344.85" cy="1290.55" r="3.15" fill="none" stroke="#000" stroke-width="1.6"/>
<circle cx="360.14" cy="1303.08" r="3.15" fill="none" stroke="#000" stroke-width="1.6"/>
<circle cx="360.14" cy="1305.08" r="3.15" fill="none" stroke="#000" stroke-width="1.6"/>
<circle cx="360.14" cy="1313.08" r="3.15" fill="none" stroke="#000" stroke-width="1.6"/>
<circle cx="375.43" cy="1232.11" r="3.15" fill="none" stroke="#000" stroke-width="1.6"/>
<circle cx="375.43" cy="1279.11" r="3.15" fill="none" stroke="#000" stroke-width="1.6"/>
<circle cx="375.43" cy="1298.11" r="3.15" fill="none" stroke="#000" stroke-width="1.6"/>
<circle cx="390.72" cy="1297.15" r="3.15" fill="none" stroke="#000" stroke-width="1.6"/>
<circle cx="390.72" cy="1309.65" r="3.15" fill="none" stroke="#000" stroke-width="1.6"/>
<circle cx="390.72" cy="1311.65" r="3.15" fill="none" stroke="#000" stroke-width="1.6"/>
<circle cx="406.01" cy="1277.18" r="3.15" fill="none" stroke="#000" stroke-width="1.6"/>
<circle cx="406.01" cy="1306.68" r="3.15" fill="none" stroke="#000" stroke-width="1.6"/>
<circle cx="406.01" cy="1309.18" r="3.15" fill="none" stroke="#000" stroke-width="1.6"/>
<circle cx="406.01" cy="1311.68" r="3.15" fill="none" stroke="#000" stroke-width="1.6"/>
<circle cx="406.01" cy="1314.18" r="3.15" fill="none" stroke="#000" stroke-width="1.6"/>
<circle cx="406.01" cy="1316.68" r="3.15" fill="none" stroke="#000" stroke-width="1.6"/>
<circle cx="421.30" cy="1283.21" r="3.15" fill="none" stroke="#000" stroke-width="1.6"/>
<circle cx="421.30" cy="1299.71" r="3.15" fill="none" stroke="#000" stroke-width="1.6"/>
<circle cx="421.30" cy="1306.71" r="3.15" fill="none" stroke="#000" stroke-width="1.6"/>
<circle cx="421.30" cy="1311.71" r="3.15" fill="none" stroke="#000" stroke-width="1.6"/>
<circle cx="421.30" cy="1315.71" r="3.15" fill="none" stroke="#000" stroke-width="1.6"/>
<circle cx="421.30" cy="1322.21" r="3.15" fill="none" stroke="#000" stroke-width="1.6"/>
<circle cx="436.59" cy="1257.74" r="3.15" fill="none" stroke="#000" stroke-width="1.6"/>
<circle cx="436.59" cy="1290.74" r="3.15" fill="none" stroke="#000" stroke-width="1.6"/>
<circle cx="436.59" cy="1300.74" r="3.15" fill="none" stroke="#000" stroke-width="1.6"/>
<circle cx="436.59" cy="1307.24" r="3.15" fill="none" stroke="#000" stroke-width="1.6"/>
<circle cx="436.59" cy="1311.74" r="3.15" fill="none" stroke="#000" stroke-width="1.6"/>
<circle cx="451.88" cy="1240.78" r="3.15" fill="none" stroke="#000" stroke-width="1.6"/>
<circle cx="451.88" cy="1252.78" r="3.15" fill="none" stroke="#000" stroke-width="1.6"/>
<circle cx="451.88" cy="1311.78" r="3.15" fill="none" stroke="#000" stroke-width="1.6"/>
<circle cx="451.88" cy="1315.78" r="3.15" fill="none" stroke="#000" stroke-width="1.6"/>
<circle cx="467.17" cy="1285.81" r="3.15" fill="none" stroke="#000" stroke-width="1.6"/>
<circle cx="467.17" cy="1306.81" r="3.15" fill="none" stroke="#000" stroke-width="1.6"/>
<circle cx="467.17" cy="1313.31" r="3.15" fill="none" stroke="#000" stroke-width="1.6"/>
<circle cx="467.17" cy="1315.81" r="3.15" fill="none" stroke="#000" stroke-width="1.6"/>
<circle cx="482.46" cy="1220.84" r="3.15" fill="none" stroke="#000" stroke-width="1.6"/>
<circle cx="482.46" cy="1244.34" r="3.15" fill="none" stroke="#000" stroke-width="1.6"/>
<circle cx="482.46" cy="1298.34" r="3.15" fill="none" stroke="#000" stroke-width="1.6"/>
<circle cx="482.46" cy="1311.84" r="3.15" fill="none" stroke="#000" stroke-width="1.6"/>
<circle cx="497.75" cy="1282.87" r="3.15" fill="none" stroke="#000" stroke-width="1.6"/>
<circle cx="497.75" cy="1302.37" r="3.15" fill="none" stroke="#000" stroke-width="1.6"/>
<text x="120.20" y="1556.10" font-size="19.4" text-anchor="end" font-weight="normal" transform="rotate(-90 120.20 1556.10)" letter-spacing="-0.60" stroke="#000" stroke-width="0.7">M1</text>
<text x="135.59" y="1556.10" font-size="19.4" text-anchor="end" font-weight="normal" transform="rotate(-90 135.59 1556.10)" letter-spacing="-0.60" stroke="#000" stroke-width="0.7">M2</text>
<text x="150.38" y="1556.10" font-size="19.4" text-anchor="end" font-weight="normal" transform="rotate(-90 150.38 1556.10)" letter-spacing="-0.60" stroke="#000" stroke-width="0.7">M3</text>
<text x="165.67" y="1556.10" font-size="19.4" text-anchor="end" font-weight="normal" transform="rotate(-90 165.67 1556.10)" letter-spacing="-0.60" stroke="#000" stroke-width="0.7">M4</text>
<text x="182.36" y="1556.10" font-size="19.4" text-anchor="end" font-weight="normal" transform="rotate(-90 182.36 1556.10)" letter-spacing="-0.60" stroke="#000" stroke-width="0.7">M5a</text>
<text x="197.65" y="1556.10" font-size="19.4" text-anchor="end" font-weight="normal" transform="rotate(-90 197.65 1556.10)" letter-spacing="-0.60" stroke="#000" stroke-width="0.7">M5b</text>
<text x="212.44" y="1556.10" font-size="19.4" text-anchor="end" font-weight="normal" transform="rotate(-90 212.44 1556.10)" letter-spacing="-0.60" stroke="#000" stroke-width="0.7">M6</text>
<text x="229.73" y="1546.35" font-size="19.4" text-anchor="end" font-weight="normal" transform="rotate(-90 229.73 1546.35)" letter-spacing="2.65" stroke="#000" stroke-width="0.7">ALL</text>
<text x="243.02" y="1549.85" font-size="19.4" text-anchor="end" font-weight="normal" transform="rotate(-90 243.02 1549.85)" letter-spacing="0.65" stroke="#000" stroke-width="0.7">CMLCP</text>
<text x="259.31" y="1556.10" font-size="19.4" text-anchor="end" font-weight="normal" transform="rotate(-90 259.31 1556.10)" letter-spacing="-0.60" stroke="#000" stroke-width="0.7">RA</text>
<text x="274.10" y="1556.10" font-size="19.4" text-anchor="end" font-weight="normal" transform="rotate(-90 274.10 1556.10)" letter-spacing="-0.60" stroke="#000" stroke-width="0.7">RARS</text>
<text x="289.09" y="1552.77" font-size="19.4" text-anchor="end" font-weight="normal" transform="rotate(-90 289.09 1552.77)" letter-spacing="0.23" stroke="#000" stroke-width="0.7">RAEB</text>
<text x="304.08" y="1547.97" font-size="19.4" text-anchor="end" font-weight="normal" transform="rotate(-90 304.08 1547.97)" letter-spacing="1.02" stroke="#000" stroke-width="0.7">RAEBT</text>
<text x="319.37" y="1550.27" font-size="19.4" text-anchor="end" font-weight="normal" transform="rotate(-90 319.37 1550.27)" letter-spacing="0.23" stroke="#000" stroke-width="0.7">AML/MDS</text>
<text x="336.06" y="1556.10" font-size="19.4" text-anchor="end" font-weight="normal" transform="rotate(-90 336.06 1556.10)" letter-spacing="-0.60" stroke="#000" stroke-width="0.7">AA</text>
<text x="352.05" y="1556.10" font-size="19.4" text-anchor="end" font-weight="normal" transform="rotate(-90 352.05 1556.10)" letter-spacing="-0.60" stroke="#000" stroke-width="0.7">non-mal</text>
<text x="368.14" y="1556.10" font-size="19.4" text-anchor="end" font-weight="normal" transform="rotate(-90 368.14 1556.10)" letter-spacing="-0.60" stroke="#000" stroke-width="0.7">normal</text>
<text x="384.43" y="1556.10" font-size="19.4" text-anchor="end" font-weight="normal" transform="rotate(-90 384.43 1556.10)" letter-spacing="-0.60" stroke="#000" stroke-width="0.7">M1</text>
<text x="397.42" y="1556.10" font-size="19.4" text-anchor="end" font-weight="normal" transform="rotate(-90 397.42 1556.10)" letter-spacing="-0.60" stroke="#000" stroke-width="0.7">M2</text>
<text x="412.71" y="1556.10" font-size="19.4" text-anchor="end" font-weight="normal" transform="rotate(-90 412.71 1556.10)" letter-spacing="-0.60" stroke="#000" stroke-width="0.7">M4</text>
<text x="428.00" y="1556.10" font-size="19.4" text-anchor="end" font-weight="normal" transform="rotate(-90 428.00 1556.10)" letter-spacing="-0.60" stroke="#000" stroke-width="0.7">M5</text>
<text x="443.29" y="1546.35" font-size="19.4" text-anchor="end" font-weight="normal" transform="rotate(-90 443.29 1546.35)" letter-spacing="2.65" stroke="#000" stroke-width="0.7">ALL</text>
<text x="457.58" y="1545.60" font-size="19.4" text-anchor="end" font-weight="normal" transform="rotate(-90 457.58 1545.60)" letter-spacing="2.90" stroke="#000" stroke-width="0.7">CML</text>
<text x="472.87" y="1550.27" font-size="19.4" text-anchor="end" font-weight="normal" transform="rotate(-90 472.87 1550.27)" letter-spacing="0.23" stroke="#000" stroke-width="0.7">AML/MDS</text>
<text x="488.16" y="1552.77" font-size="19.4" text-anchor="end" font-weight="normal" transform="rotate(-90 488.16 1552.77)" letter-spacing="0.23" stroke="#000" stroke-width="0.7">RAEB</text>
<text x="503.45" y="1551.10" font-size="19.4" text-anchor="end" font-weight="normal" transform="rotate(-90 503.45 1551.10)" letter-spacing="0.40" stroke="#000" stroke-width="0.7">RAEBT</text>
<path d="M109.60 1628.00 C109.60 1635.95,119.00 1642.40,130.60 1642.40 L332.50 1642.40 C344.10 1642.40,353.50 1635.95,353.50 1628.00 M357.30 1628.00 C357.30 1635.90,364.91 1642.30,374.30 1642.30 L498.40 1642.30 C505.41 1642.30,511.10 1635.90,511.10 1628.00" fill="none" stroke="#000" stroke-width="2"/>
<text x="146.36" y="1668.40" font-size="24" text-anchor="start" font-weight="normal" letter-spacing="0.57" stroke="#000" stroke-width="0.65">BONE MARROW</text>
<text x="393.16" y="1665.10" font-size="24" text-anchor="start" font-weight="normal" letter-spacing="0.6" stroke="#000" stroke-width="0.65">PB-MNC</text>
<text x="-2.59" y="1136.12" font-size="36" text-anchor="start" font-weight="bold" stroke="#000" stroke-width="0">C</text>
<text transform="translate(29.20 1331.69) rotate(-90) scale(1 1.07)" x="0" y="0" font-size="32.5" text-anchor="middle" stroke="#000" stroke-width="0.15" letter-spacing="1.0">TfR1 (%K562)</text>
</g>
</svg>
</body></html>
